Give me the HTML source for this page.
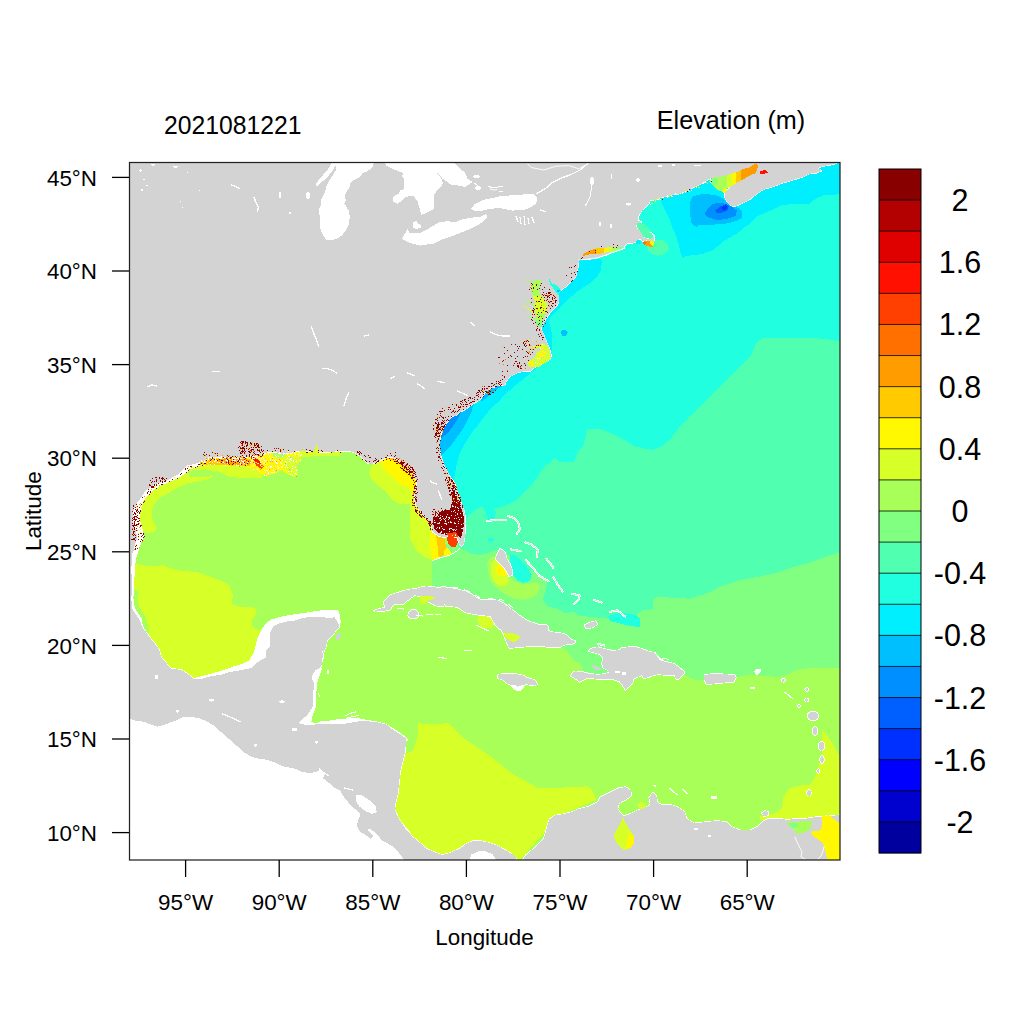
<!DOCTYPE html>
<html><head><meta charset="utf-8"><style>
html,body{margin:0;padding:0;background:#fff;}
svg{display:block;}
text{font-family:"Liberation Sans",sans-serif;fill:#000;}
.tl{font-size:22.4px;}
.cb{font-size:30.5px;}
.ti{font-size:24.8px;}
</style></head><body>
<svg width="1024" height="1024" viewBox="0 0 1024 1024">
<rect x="0" y="0" width="1024" height="1024" fill="#fff"/>
<clipPath id="pc"><rect x="129" y="162" width="711" height="698"/></clipPath><g clip-path="url(#pc)" shape-rendering="crispEdges"><rect x="129" y="162" width="711" height="698" fill="#fff"/>
<path d="M129.0,162.0 840.0,162.0 840.0,860.0 129.0,860.0Z" fill="#a8ff58"/>
<path d="M840.0,162.0 840.0,667.8 810.9,667.8 796.9,670.2 787.5,674.8 778.1,677.2 764.1,676.0 750.0,674.8 735.9,677.2 704.3,679.5 693.8,679.5 684.4,674.8 679.7,676.0 658.6,672.0 642.2,672.0 630.5,676.0 624.6,676.0 618.8,675.0 600.0,679.5 582.0,670.2 582.0,666.6 579.7,663.1 575.0,660.8 573.3,660.0 567.8,651.6 560.0,646.9 540.0,640.0 500.0,625.0 470.0,612.0 440.0,600.0 432.0,592.0 432.0,560.0 440.0,555.0 450.0,540.0 450.0,162.0Z" fill="#80ff80"/>
<path d="M840.0,162.0 840.0,552.0 825.0,557.0 810.8,562.4 790.0,568.0 775.7,573.0 760.0,576.5 740.5,580.0 720.0,587.0 705.4,594.0 689.0,598.7 670.3,597.6 656.2,597.0 652.7,601.0 653.9,609.2 642.2,610.4 635.2,616.2 630.5,625.6 620.6,622.8 605.0,618.1 590.0,617.0 580.0,615.5 573.8,612.0 564.7,613.0 558.1,608.8 549.1,607.0 545.6,604.1 542.5,599.4 545.6,591.6 547.2,582.2 539.4,575.9 531.6,571.2 508.1,554.8 497.2,549.7 489.4,552.5 480.0,555.0 471.5,553.7 459.9,548.2 455.0,540.0 450.0,162.0Z" fill="#50ffaf"/>
<path d="M840.0,162.0 840.0,341.0 825.0,339.0 810.8,337.6 775.7,337.6 762.0,338.5 756.0,343.0 751.0,355.0 742.0,364.0 733.5,372.7 725.0,381.5 716.0,390.3 707.0,399.0 698.4,407.8 689.5,416.5 680.8,425.4 675.0,433.0 670.3,439.5 662.0,446.0 652.7,450.0 644.0,448.5 635.1,446.5 626.0,441.0 617.6,436.0 608.0,432.0 600.0,429.0 588.2,429.2 587.3,429.7 583.2,446.1 577.9,451.8 573.7,462.5 569.7,462.0 560.0,462.5 555.4,457.9 543.0,468.2 536.0,479.7 529.8,486.8 522.8,493.8 515.7,500.8 506.3,505.5 497.0,507.9 491.1,510.2 486.4,507.9 480.5,507.3 474.7,510.2 468.8,514.9 466.5,520.0 450.0,520.0 440.0,162.0Z" fill="#20ffdf"/>
<path d="M650.0,195.0 659.8,198.7 664.5,209.2 669.2,218.6 672.7,228.0 676.2,236.2 678.6,244.4 680.9,253.8 683.3,258.0 686.0,256.0 702.2,254.0 713.1,250.0 724.1,241.0 737.7,232.8 745.0,227.0 751.4,222.5 758.0,216.0 768.4,211.5 782.0,205.1 795.7,203.8 809.4,203.8 816.2,198.3 823.0,195.5 829.9,194.9 840.0,194.2 840.0,162.0 700.0,162.0 650.0,185.0Z" fill="#00efff"/>
<path d="M690.3,201.0 692.7,196.3 700.0,194.5 708.2,194.2 716.4,195.5 723.2,198.3 727.3,202.4 734.2,206.5 738.3,207.9 742.4,212.0 742.4,217.4 738.3,220.2 730.1,222.9 720.5,224.3 708.2,224.8 700.0,224.5 696.2,226.8 691.5,223.3 690.3,215.1 690.3,206.9Z" fill="#00bfff"/>
<path d="M705.5,212.0 710.9,205.1 717.8,202.4 726.0,203.8 731.4,206.5 736.9,210.6 735.5,216.0 727.3,218.8 717.8,220.2 708.2,217.4 704.8,214.7Z" fill="#008fff"/>
<path d="M715.0,210.6 720.5,206.5 726.0,203.8 728.7,206.5 727.3,210.6 721.9,212.6 716.4,212.6Z" fill="#0060ff"/>
<path d="M722.0,207.5 725.5,205.0 727.5,206.8 726.0,209.5 723.0,210.0Z" fill="#0030ff"/>
<path d="M570.0,262.0 578.8,260.0 590.0,259.0 601.0,258.8 602.0,261.1 600.8,270.5 597.3,276.3 591.4,282.2 584.4,286.9 577.3,291.6 570.3,297.4 564.5,303.3 559.8,308.0 555.1,312.7 550.4,317.3 549.0,322.0 551.3,329.8 552.3,339.5 551.8,349.3 550.5,356.0 549.0,358.0 540.0,355.0 540.0,300.0 560.0,280.0Z" fill="#00efff"/>
<path d="M548.0,356.0 543.3,362.4 529.2,374.3 515.2,385.7 502.9,396.2 500.5,400.0 492.3,407.0 485.2,415.2 479.4,423.4 473.5,430.5 467.7,438.7 463.0,446.9 459.4,453.9 457.1,462.1 455.9,468.0 454.8,475.0 453.6,479.7 455.3,484.4 445.0,484.0 430.0,450.0 470.0,400.0 530.0,362.0Z" fill="#00efff"/>
<path d="M497.3,386.2 485.2,392.0 479.4,399.8 474.7,403.8 473.5,404.7 471.2,412.9 466.5,422.3 461.8,430.5 455.9,438.7 450.1,446.9 443.0,453.9 440.7,455.1 436.0,450.0 440.0,420.0 470.0,395.0 490.0,385.0Z" fill="#00bfff"/>
<path d="M461.0,412.0 460.6,412.9 457.1,419.9 452.4,427.0 447.7,432.8 441.9,437.5 439.0,438.0 440.0,425.0 450.0,415.0Z" fill="#008fff"/>
<path d="M497.6,385.0 494.1,386.3 490.5,387.6 487.0,390.3 484.4,392.9 481.8,396.4 479.5,399.6 482.0,401.0 485.0,399.0 488.0,396.0 492.0,393.0 496.0,390.0 500.0,387.5 503.0,386.0Z" fill="#00bfff"/>
<path d="M561.0,331.0 565.0,329.5 568.0,332.0 566.0,336.0 562.0,336.0Z" fill="#00bfff"/>
<path d="M131.0,563.0 134.9,563.4 146.6,565.9 163.2,565.4 177.8,570.3 197.4,572.2 216.9,579.1 229.0,584.9 233.0,595.2 231.5,604.0 240.3,606.9 252.0,606.9 256.8,609.8 255.9,614.6 252.0,619.5 252.0,625.4 255.9,629.3 260.7,630.3 265.0,625.0 270.0,650.0 250.0,680.0 190.0,690.0 140.0,650.0 131.0,620.0Z" fill="#d7ff28"/>
<path d="M133.9,588.8 138.8,591.8 137.8,598.6 138.8,606.4 145.6,617.1 148.5,627.9 148.5,633.8 145.0,634.0 140.0,625.0 134.0,612.0 132.0,600.0Z" fill="#a8ff58"/>
<path d="M215.0,460.0 206.0,462.0 190.0,466.0 175.0,475.0 160.0,483.0 148.0,492.0 140.0,502.0 137.0,515.0 138.0,528.0 143.1,530.8 146.6,533.1 151.3,532.5 155.4,530.8 156.5,526.1 153.6,522.6 151.9,516.7 152.4,509.7 154.8,502.7 159.5,498.0 167.7,493.3 178.2,487.4 187.6,483.3 199.3,481.0 209.9,479.2 215.7,470.5 222.8,473.2 227.4,476.3 240.0,478.0 249.0,477.5 262.0,477.6 263.0,472.0 262.0,466.0 249.0,462.0 235.0,461.0 222.0,460.0Z" fill="#d7ff28"/>
<path d="M188.0,471.0 200.0,469.5 211.0,470.0 214.0,474.0 209.0,476.5 199.0,477.0 189.0,477.0Z" fill="#a8ff58"/>
<path d="M376.0,462.0 373.0,463.7 371.0,467.1 369.1,473.0 371.0,478.8 376.9,484.7 384.7,490.5 392.5,500.0 400.0,504.0 410.0,504.5 410.2,520.0 410.0,538.0 416.8,551.0 423.7,557.0 431.9,559.9 433.0,560.0 440.0,540.0 432.0,527.0 420.0,510.0 416.0,490.0 416.0,470.0 400.0,460.0 385.0,457.0Z" fill="#d7ff28"/>
<path d="M380.8,460.3 388.6,457.3 400.3,463.2 405.0,462.0 413.0,470.0 417.0,478.0 417.0,490.0 415.0,492.5 414.0,492.5 408.1,487.6 400.0,484.0 392.5,476.9 386.6,472.0 382.7,467.1Z" fill="#fff800"/>
<path d="M388.6,456.0 398.4,459.0 407.1,467.0 410.0,471.0 407.1,469.6 404.2,469.1 398.0,463.0 392.5,460.3 386.0,458.5Z" fill="#ffca00"/>
<path d="M429.8,533.0 436.0,534.0 437.5,545.0 438.7,558.0 433.0,560.5 431.0,555.0 429.5,545.0Z" fill="#fff800"/>
<path d="M436.0,534.0 444.0,537.0 446.0,546.0 445.5,553.0 440.0,557.8 438.7,558.0 437.5,545.0Z" fill="#ffca00"/>
<path d="M444.0,550.0 447.0,548.0 450.0,551.0 452.0,554.0 448.0,556.0 444.0,557.0Z" fill="#fff800"/>
<path d="M447.5,535.3 457.2,536.5 458.0,542.0 456.0,546.5 452.0,547.0 449.0,545.0 447.0,540.0Z" fill="#ff4000"/>
<path d="M418.0,722.0 420.6,724.1 448.6,723.4 463.8,738.1 491.7,757.1 512.0,773.6 537.4,787.6 562.8,787.6 588.2,786.3 594.6,794.0 596.0,800.0 560.0,815.0 520.0,860.0 400.0,860.0 395.0,800.0 400.0,760.0 405.4,753.3 413.0,750.8 418.1,735.5Z" fill="#d7ff28"/>
<path d="M822.5,730.3 828.0,737.0 833.4,744.4 838.1,753.8 840.0,756.0 840.0,820.0 760.0,820.0 760.0,816.2 775.6,813.1 781.9,808.4 783.4,797.5 788.1,789.7 794.4,786.6 803.8,785.0 810.0,785.0 814.7,777.2 819.4,763.1 822.5,756.9 821.7,745.9Z" fill="#d7ff28"/>
<path d="M478.6,616.0 486.0,615.6 490.3,616.1 494.2,623.0 492.3,627.9 485.0,628.5 480.5,626.9 478.0,621.0Z" fill="#d7ff28"/>
<path d="M493.0,601.0 500.0,602.0 505.0,606.0 506.0,609.0 500.0,607.0 494.0,604.0Z" fill="#d7ff28"/>
<path d="M487.0,563.4 490.9,557.2 497.2,554.8 498.8,563.4 507.3,575.9 514.4,581.4 523.8,584.5 533.1,583.0 538.1,581.9 539.7,586.9 537.8,593.9 531.6,598.1 522.2,599.7 512.8,598.1 503.4,593.1 495.6,586.9 489.4,579.0Z" fill="#a8ff58"/>
<path d="M509.7,555.6 515.9,554.8 520.6,560.3 526.9,566.6 531.6,574.4 530.0,580.6 523.8,583.0 517.5,580.6 513.6,575.9 511.2,571.2 510.5,563.4Z" fill="#20ffdf"/>
<path d="M490.9,563.4 495.6,559.5 503.4,567.3 507.3,575.9 508.9,580.6 506.6,585.3 500.3,586.1 494.0,582.2 490.9,574.4Z" fill="#d7ff28"/>
<path d="M495.6,568.1 500.3,563.4 505.8,568.9 507.3,575.2 501.9,576.7 496.4,573.6Z" fill="#fff800"/>
<path d="M482.0,505.0 492.0,506.0 496.0,512.0 494.0,520.0 490.0,523.0 487.0,518.0 485.0,511.0Z" fill="#20ffdf"/>
<path d="M488.0,538.0 492.0,537.5 494.0,540.0 491.0,542.5 488.0,541.0Z" fill="#20ffdf"/>
<path d="M608.0,616.0 620.0,613.0 632.0,614.0 640.0,618.0 640.0,627.0 630.0,626.0 618.0,623.0 610.0,621.0Z" fill="#20ffdf"/>
<path d="M668.8,247.7 668.0,250.8 665.6,253.4 662.1,255.1 658.0,255.7 653.9,255.1 650.4,253.4 648.0,250.8 647.2,247.7 648.0,244.6 650.4,242.0 653.9,240.3 658.0,239.7 662.1,240.3 665.6,242.0 668.0,244.6Z" fill="#50ffaf"/>
<path d="M249.0,465.2 232.1,465.2 222.8,462.8 213.4,462.8 205.2,464.0 197.0,466.3 189.9,469.8 184.1,474.5 175.9,479.2 167.7,482.7 159.5,486.2 152.4,490.9 146.6,496.8 143.1,502.7 140.7,509.7 140.1,516.7 140.7,523.8 143.1,530.8 144.2,535.5 141.9,541.3 139.5,547.2 138.4,550.0 138.8,549.8 135.8,559.5 134.9,569.3 133.9,588.8 133.4,598.6 134.9,608.4 138.8,614.2 141.7,618.1 142.7,625.0 145.6,630.8 148.5,635.7 150.5,640.0 129.0,640.0 129.0,455.0 249.0,455.0Z" fill="#ffffff"/>
<path d="M193.9,678.0 198.6,676.9 208.0,674.5 216.2,672.2 224.4,669.8 233.8,666.3 242.0,664.0 249.0,660.5 253.9,652.7 255.9,643.9 257.8,637.1 261.7,629.3 265.6,623.4 271.5,619.5 279.3,617.1 289.1,615.1 298.8,613.7 308.6,612.2 318.4,610.7 326.2,609.8 337.9,609.8 339.8,614.6 340.8,622.5 338.9,627.3 320.0,640.0 290.0,650.0 260.0,670.0 200.0,685.0Z" fill="#ffffff"/>
<path d="M322.0,668.0 316.9,683.7 316.2,697.3 315.5,708.3 312.8,715.1 311.4,722.0 315.5,723.3 321.0,721.3 329.2,720.6 337.4,719.2 345.6,718.5 356.6,717.9 367.5,719.9 375.7,721.3 383.9,723.3 392.1,727.4 400.3,732.9 407.2,738.4 408.5,740.0 400.0,745.0 300.0,740.0 300.0,668.0Z" fill="#ffffff"/>
<path d="M406.0,740.0 400.2,765.2 400.2,779.3 397.8,791.0 394.3,808.6 400.2,820.3 410.0,832.0 390.0,830.0 390.0,740.0Z" fill="#ffffff"/>
<path d="M126.5,717.4 126.5,862.5 499.3,862.5 493.8,853.3 485.3,849.4 477.6,850.0 470.1,853.4 468.3,859.5 405.7,859.5 400.2,852.2 397.7,848.6 392.8,844.9 386.8,841.3 382.4,839.0 380.3,835.7 375.4,830.9 369.9,826.7 364.8,829.3 371.3,835.7 370.5,836.9 365.8,833.1 361.4,830.9 358.4,825.9 359.4,820.8 361.9,815.7 360.4,811.2 355.5,807.5 349.7,801.7 345.1,796.0 341.5,789.9 335.4,786.3 329.6,781.6 324.7,777.7 327.1,773.0 320.6,768.1 315.4,770.8 308.8,771.4 302.2,770.3 296.4,767.3 290.3,766.1 282.6,764.8 278.0,762.2 271.7,759.8 265.2,757.9 257.4,756.9 251.5,755.2 245.5,751.5 239.4,746.1 233.1,740.6 226.9,735.1 220.6,729.7 214.3,724.1 207.8,720.1 199.7,716.9 191.7,715.2 183.4,715.2 176.8,718.4 170.7,720.8 163.0,723.9 157.2,725.0 151.4,723.1 145.0,720.4 137.1,719.4 130.8,717.6Z" fill="#ffffff"/>
<path d="M509.3,684.6 512.3,688.1 515.8,690.5 520.8,690.8 524.0,686.9 525.7,684.3 520.0,684.0Z" fill="#ffffff"/>
<path d="M200.0,459.2 213.7,455.8 227.3,454.4 241.0,456.4 252.0,452.3 261.5,451.7 272.5,451.0 284.8,450.3 301.2,452.3 301.2,460.5 295.7,466.0 298.4,472.9 294.3,477.0 287.5,474.2 282.0,470.1 273.8,474.2 264.3,475.6 257.4,471.5 247.9,466.0 234.2,466.0 220.5,464.6 206.8,464.6 200.0,465.3Z" fill="#fff800"/>
<path d="M200.0,459.5 213.7,457.0 230.0,456.5 245.0,458.0 252.0,460.0 250.0,466.0 235.0,466.0 220.0,464.6 206.0,464.6 200.0,465.0Z" fill="#ffca00"/>
<path d="M215.0,459.0 230.0,458.0 245.0,459.0 251.0,461.0 249.0,465.0 236.0,465.0 222.0,463.5Z" fill="#ff9c00"/>
<path d="M252.0,455.0 258.8,460.5 262.0,463.0 259.0,464.0 254.7,461.0 250.6,458.0Z" fill="#ff1000"/>
<path d="M259.0,464.0 264.3,466.0 261.5,468.8 254.7,464.6 253.0,462.0Z" fill="#ff4000"/>
<path d="M272.5,451.5 284.8,451.0 284.8,457.8 278.0,458.0 273.0,456.0Z" fill="#a8ff58"/>
<path d="M282.0,457.0 292.0,456.0 300.0,458.0 297.0,466.0 298.4,472.9 294.3,477.0 289.0,474.0 284.0,466.0Z" fill="#d7ff28"/>
<path d="M298.8,450.8 320.0,450.5 340.0,450.5 340.0,456.0 320.0,456.0 300.0,457.0Z" fill="#d7ff28"/>
<path d="M818.5,716.0 818.1,717.7 816.9,719.2 815.1,720.2 813.0,720.5 810.9,720.2 809.1,719.2 807.9,717.7 807.5,716.0 807.9,714.3 809.1,712.8 810.9,711.8 813.0,711.5 815.1,711.8 816.9,712.8 818.1,714.3Z" fill="none" stroke="#ffffff" stroke-width="1.6" stroke-linejoin="round"/>
<path d="M817.5,731.0 817.3,732.5 816.8,733.8 816.0,734.7 815.0,735.0 814.0,734.7 813.2,733.8 812.7,732.5 812.5,731.0 812.7,729.5 813.2,728.2 814.0,727.3 815.0,727.0 816.0,727.3 816.8,728.2 817.3,729.5Z" fill="none" stroke="#ffffff" stroke-width="1.6" stroke-linejoin="round"/>
<path d="M824.5,746.0 824.3,747.7 823.6,749.2 822.6,750.2 821.5,750.5 820.4,750.2 819.4,749.2 818.7,747.7 818.5,746.0 818.7,744.3 819.4,742.8 820.4,741.8 821.5,741.5 822.6,741.8 823.6,742.8 824.3,744.3Z" fill="none" stroke="#ffffff" stroke-width="1.6" stroke-linejoin="round"/>
<path d="M823.8,759.5 823.7,760.8 823.3,762.0 822.7,762.7 822.0,763.0 821.3,762.7 820.7,762.0 820.3,760.8 820.2,759.5 820.3,758.2 820.7,757.0 821.3,756.3 822.0,756.0 822.7,756.3 823.3,757.0 823.7,758.2Z" fill="none" stroke="#ffffff" stroke-width="1.6" stroke-linejoin="round"/>
<path d="M819.4,771.0 819.3,771.7 819.0,772.3 818.7,772.7 818.2,772.8 817.7,772.7 817.4,772.3 817.1,771.7 817.0,771.0 817.1,770.3 817.4,769.7 817.7,769.3 818.2,769.2 818.7,769.3 819.0,769.7 819.3,770.3Z" fill="none" stroke="#ffffff" stroke-width="1.6" stroke-linejoin="round"/>
<path d="M811.0,793.0 810.8,794.1 810.4,795.0 809.8,795.6 809.0,795.8 808.2,795.6 807.6,795.0 807.2,794.1 807.0,793.0 807.2,791.9 807.6,791.0 808.2,790.4 809.0,790.2 809.8,790.4 810.4,791.0 810.8,791.9Z" fill="none" stroke="#ffffff" stroke-width="1.6" stroke-linejoin="round"/>
<path d="M808.4,689.5 808.3,690.1 807.9,690.6 807.4,691.0 806.8,691.1 806.2,691.0 805.7,690.6 805.3,690.1 805.2,689.5 805.3,688.9 805.7,688.4 806.2,688.0 806.8,687.9 807.4,688.0 807.9,688.4 808.3,688.9Z" fill="none" stroke="#ffffff" stroke-width="1.6" stroke-linejoin="round"/>
<path d="M808.4,700.0 808.3,700.6 807.9,701.1 807.4,701.5 806.8,701.6 806.2,701.5 805.7,701.1 805.3,700.6 805.2,700.0 805.3,699.4 805.7,698.9 806.2,698.5 806.8,698.4 807.4,698.5 807.9,698.9 808.3,699.4Z" fill="none" stroke="#ffffff" stroke-width="1.6" stroke-linejoin="round"/>
<path d="M784.9,680.3 784.8,680.9 784.5,681.4 784.0,681.7 783.4,681.8 782.8,681.7 782.3,681.4 782.0,680.9 781.9,680.3 782.0,679.7 782.3,679.2 782.8,678.9 783.4,678.8 784.0,678.9 784.5,679.2 784.8,679.7Z" fill="none" stroke="#ffffff" stroke-width="1.6" stroke-linejoin="round"/>
<path d="M800.0,706.0 799.9,706.4 799.7,706.7 799.4,706.9 799.0,707.0 798.6,706.9 798.3,706.7 798.1,706.4 798.0,706.0 798.1,705.6 798.3,705.3 798.6,705.1 799.0,705.0 799.4,705.1 799.7,705.3 799.9,705.6Z" fill="none" stroke="#ffffff" stroke-width="1.6" stroke-linejoin="round"/>
<path d="M762.0,813.0 765.0,811.0 768.5,812.0 768.0,815.0 764.0,816.5Z" fill="none" stroke="#ffffff" stroke-width="1.5" stroke-linejoin="round"/>
<path d="M374.1,610.7 377.0,609.6 381.7,608.4 385.8,607.2 384.1,604.9 384.1,601.4 387.0,598.4 390.5,595.2 394.6,593.7 399.3,592.3 405.1,590.5 411.0,589.4 415.7,589.1 419.8,587.6 425.9,586.3 431.7,586.8 437.6,587.8 443.4,587.3 449.3,587.8 455.2,588.8 461.0,590.3 466.9,591.7 471.8,594.6 476.6,597.6 480.5,599.5 486.4,600.0 492.3,600.0 498.1,600.5 504.0,603.4 509.8,608.3 514.7,611.7 519.4,615.6 524.1,618.8 529.5,621.9 535.0,623.4 539.7,625.0 545.9,625.0 548.3,626.6 548.3,630.5 550.6,632.0 556.9,632.8 563.1,633.6 566.2,635.2 569.4,638.3 572.5,640.2 574.8,640.6 575.2,642.6 572.5,643.8 566.2,644.5 563.1,645.3 560.0,646.9 553.8,647.3 547.5,646.9 541.2,645.7 533.4,646.1 525.6,646.5 517.8,647.3 512.0,647.8 509.0,647.7 507.0,643.0 505.0,638.0 503.0,633.0 501.1,629.8 497.1,626.9 494.2,623.0 492.3,619.1 490.3,616.1 486.4,615.6 480.5,615.2 474.7,614.2 468.8,613.2 464.9,612.2 461.0,609.3 457.1,606.9 452.2,606.4 446.4,606.4 444.4,603.4 443.4,605.9 439.5,606.4 435.6,605.4 431.7,603.4 427.8,601.5 426.8,600.5 424.0,598.5 420.0,596.5 414.5,595.2 411.0,597.8 406.3,601.4 402.8,604.3 398.1,604.0 394.6,604.3 392.3,606.0 389.9,609.6 385.2,610.7 381.7,611.3 375.3,611.6Z" fill="none" stroke="#ffffff" stroke-width="1.6" stroke-linejoin="round"/>
<path d="M589.1,650.2 592.6,647.9 598.4,647.3 605.5,649.1 612.5,650.8 619.5,650.2 621.9,647.9 627.7,647.3 634.8,646.7 640.6,648.5 645.3,650.2 650.0,652.0 654.7,652.6 657.0,656.1 659.4,658.4 661.7,660.8 666.4,662.0 673.4,663.7 678.1,666.6 681.6,669.6 684.6,671.9 682.8,674.8 680.5,677.2 678.1,679.5 675.8,678.4 674.6,675.4 668.8,674.8 664.1,674.8 659.4,674.3 654.7,674.8 650.0,676.6 644.1,678.4 641.8,675.4 638.3,676.6 633.6,678.4 632.4,683.0 628.9,686.6 625.4,690.1 624.2,687.7 621.9,684.2 619.5,681.3 613.7,679.5 607.8,678.9 600.8,679.5 593.8,678.4 586.7,678.4 582.0,680.7 579.7,681.9 577.3,679.5 575.0,678.4 571.0,676.0 572.0,673.5 575.0,671.3 582.0,671.9 589.1,673.7 598.4,674.8 605.5,673.7 609.0,672.5 607.8,670.2 603.1,667.8 602.0,663.1 603.1,658.4 600.8,654.9 594.9,652.6 589.1,651.4Z" fill="none" stroke="#ffffff" stroke-width="1.6" stroke-linejoin="round"/>
<path d="M497.6,675.8 499.4,674.4 504.6,674.1 507.6,673.5 514.6,674.1 519.3,674.6 524.6,675.8 526.3,677.6 529.8,678.8 534.5,679.9 537.5,684.0 534.5,685.5 530.4,685.2 526.3,684.0 522.8,685.2 519.3,685.8 517.5,686.9 515.8,685.2 509.9,684.6 507.0,683.4 503.5,679.9 500.5,678.8 497.6,678.2Z" fill="none" stroke="#ffffff" stroke-width="1.6" stroke-linejoin="round"/>
<path d="M704.3,675.0 712.0,674.0 720.0,674.2 728.0,674.5 734.8,675.3 736.0,677.5 733.6,681.9 725.0,682.5 715.0,683.5 706.6,684.2 704.5,680.0Z" fill="none" stroke="#ffffff" stroke-width="1.6" stroke-linejoin="round"/>
<path d="M408.1,615.4 409.8,611.3 412.2,609.9 415.7,610.1 418.0,613.1 418.6,616.0 416.3,617.8 412.2,618.4 409.2,617.2Z" fill="none" stroke="#ffffff" stroke-width="1.6" stroke-linejoin="round"/>
<path d="M500.3,548.6 505.0,552.5 506.6,558.8 509.7,563.4 512.0,569.7 512.0,575.2 508.9,575.9 506.6,571.2 503.4,566.6 499.5,563.4 495.6,558.8 498.0,552.5Z" fill="none" stroke="#ffffff" stroke-width="1.6" stroke-linejoin="round"/>
<path d="M584.7,625.2 590.0,622.5 595.6,621.2 597.2,624.4 592.5,627.5 586.2,628.3Z" fill="none" stroke="#ffffff" stroke-width="1.6" stroke-linejoin="round"/>
<path d="M522.0,861.0 526.0,855.0 533.8,848.6 540.0,842.2 543.6,838.8 545.1,834.6 547.6,824.4 549.5,819.3 552.7,816.8 555.3,815.4 562.8,814.3 573.0,811.7 578.1,809.2 588.2,806.7 598.4,801.6 600.0,797.5 609.4,792.8 618.8,788.1 625.8,787.0 630.5,790.5 631.6,795.2 625.8,799.8 618.8,803.4 617.6,809.2 621.1,813.9 623.4,816.2 630.5,813.9 637.5,810.4 646.9,806.9 650.4,804.5 649.2,797.5 652.7,792.8 656.2,795.2 657.4,802.2 660.9,804.5 670.3,804.5 677.3,806.9 684.4,811.6 686.7,818.6 693.8,823.3 705.5,822.1 717.2,820.9 726.6,822.1 731.2,826.8 740.6,830.3 750.0,830.3 759.4,825.6 764.1,820.9 768.8,818.6 778.1,818.6 787.5,819.8 796.9,818.6 806.2,818.6 813.3,817.4 825.0,816.2 841.0,815.1 841.0,861.0Z" fill="none" stroke="#ffffff" stroke-width="1.4" stroke-linejoin="round"/>
<path d="M129.0,162.0 836.7,162.0 836.7,163.4 831.3,164.8 823.1,166.2 817.6,168.2 821.7,170.9 816.2,173.0 809.4,173.7 803.9,176.4 795.7,179.1 788.9,181.2 782.0,183.2 776.6,185.3 771.1,187.3 765.6,188.7 760.2,191.4 754.7,195.5 749.2,199.7 743.8,202.4 738.3,205.1 734.2,206.5 730.1,205.1 727.3,202.4 725.3,198.3 724.6,194.2 726.0,190.8 730.1,187.3 711.4,177.6 706.7,180.5 702.0,183.4 696.2,186.4 690.3,188.7 685.6,191.1 678.6,194.0 672.7,194.6 666.9,196.3 661.0,197.5 655.2,199.8 650.1,200.0 649.0,203.5 645.5,207.0 642.0,210.0 639.6,214.1 637.8,217.6 638.4,220.5 641.4,222.0 640.2,222.8 637.3,224.0 636.1,225.8 636.7,228.1 638.4,229.3 640.8,231.6 642.5,235.1 644.3,237.5 647.8,238.7 651.3,238.1 653.1,236.3 652.5,234.0 650.7,232.2 649.6,232.2 651.5,232.8 653.5,234.5 654.6,237.5 654.5,240.4 651.3,241.0 646.6,240.4 642.5,241.0 641.4,240.4 640.2,239.2 637.3,239.8 636.1,242.2 631.4,243.1 626.7,243.3 625.5,245.1 624.5,246.0 624.1,248.4 619.4,250.0 616.2,251.2 611.6,252.7 606.9,254.7 602.2,256.2 597.5,257.8 592.8,258.6 585.8,259.4 578.8,259.8 578.8,260.9 578.3,264.0 578.0,267.2 577.2,270.5 576.4,273.4 575.6,276.6 573.3,279.7 570.3,282.2 567.8,285.0 563.9,288.0 560.9,290.4 558.6,286.9 555.1,284.5 551.6,283.4 549.2,278.7 548.5,279.5 550.4,284.5 552.2,286.3 553.9,289.2 556.2,292.7 558.6,295.1 558.6,302.1 556.2,306.8 552.7,310.3 549.2,313.8 546.9,317.3 544.5,320.9 542.2,325.5 541.6,326.7 541.0,329.1 543.4,333.8 545.1,338.4 546.9,343.1 549.2,347.8 550.4,352.5 551.2,354.9 550.3,359.3 546.8,361.1 543.3,362.9 539.8,364.6 536.2,366.4 532.7,369.0 531.0,370.8 527.5,371.2 522.2,371.6 517.8,372.5 514.3,374.3 510.8,376.0 508.1,378.7 506.4,381.3 505.0,383.9 504.6,385.7 501.1,385.3 497.6,385.7 494.1,387.0 490.5,388.3 487.0,391.0 484.4,393.6 481.8,397.1 480.0,399.8 478.6,400.6 474.7,403.0 470.8,405.3 466.9,408.4 463.0,410.8 459.1,412.3 455.9,415.5 452.8,416.2 451.2,417.8 448.9,420.2 446.6,423.3 444.2,426.4 442.7,429.5 441.1,433.4 440.3,438.1 439.5,441.2 439.5,445.9 439.9,451.4 441.1,456.9 442.7,461.6 443.4,465.0 443.8,464.7 446.1,469.4 448.4,474.1 451.6,478.8 454.7,483.4 456.2,489.7 457.8,493.6 459.4,497.5 460.9,502.2 462.5,506.9 464.1,510.8 464.8,514.7 465.2,519.4 464.8,524.1 465.4,526.0 465.0,532.0 464.5,538.0 463.3,544.7 461.5,546.0 459.5,544.0 458.0,540.0 457.2,537.3 448.3,535.9 444.2,537.3 438.7,535.9 432.6,531.8 432.0,527.2 429.7,522.5 426.6,519.4 424.2,516.2 421.1,513.1 418.0,508.4 415.6,503.8 414.5,499.1 414.8,494.4 415.6,489.7 416.8,485.0 416.4,480.3 415.0,477.9 413.0,474.0 410.1,471.0 406.2,468.1 402.3,464.2 398.4,460.3 394.5,457.8 390.5,456.9 385.7,457.8 380.8,460.3 376.9,462.2 373.0,463.7 369.1,463.7 366.1,462.2 363.2,458.3 359.3,455.4 354.4,452.5 349.5,451.0 339.8,451.0 330.0,452.0 321.3,451.9 315.9,451.9 311.6,451.3 305.2,450.8 298.8,450.8 294.5,451.9 289.1,452.9 283.7,454.0 278.3,452.9 273.0,451.9 267.6,452.4 262.2,454.0 256.9,456.2 251.5,456.2 246.1,457.2 240.7,458.3 234.5,458.1 222.8,457.0 211.0,457.0 204.0,460.5 194.6,464.0 187.6,465.2 184.1,468.7 179.4,473.4 173.5,476.9 167.7,480.4 161.8,481.6 156.0,483.9 150.1,487.4 145.4,490.9 140.7,498.0 137.2,502.7 133.7,509.7 132.5,516.7 133.7,523.8 136.0,530.8 137.2,537.8 134.9,544.8 133.7,550.0 131.9,555.0 131.4,569.3 131.9,588.8 131.4,598.6 131.9,608.4 135.8,614.2 139.7,620.1 142.7,627.9 144.7,630.0 149.4,637.0 155.2,644.1 159.3,649.9 161.1,657.0 167.0,664.0 171.6,668.7 181.0,669.8 186.9,673.4 191.6,676.9 193.9,679.2 200.9,679.2 208.0,676.9 215.0,675.7 222.0,674.5 229.0,672.2 236.1,671.0 242.0,669.8 247.8,668.7 252.5,667.5 255.9,663.5 261.7,659.6 265.6,657.6 266.1,650.8 269.5,646.9 270.0,639.1 270.5,632.2 273.4,626.4 279.3,623.4 287.1,621.5 294.9,620.5 302.7,618.1 310.5,616.6 318.4,616.6 326.2,617.6 332.0,618.1 334.0,616.6 336.9,620.5 338.9,624.4 338.9,627.3 334.0,633.2 330.1,637.1 327.1,641.0 326.2,645.9 324.2,650.8 322.3,658.6 321.3,666.4 318.0,669.0 315.5,670.0 311.4,676.8 314.2,683.7 312.8,697.3 312.8,706.9 307.3,715.1 300.5,720.6 299.1,723.3 304.6,724.7 312.8,724.7 321.0,724.0 332.0,724.0 342.9,724.0 351.1,722.6 359.3,721.3 368.9,721.3 378.4,722.6 386.6,724.7 393.5,730.2 400.3,734.3 405.8,738.4 405.4,750.8 402.9,760.9 400.3,771.1 399.0,783.8 397.8,794.0 395.2,804.1 394.5,809.0 399.0,819.3 405.0,828.0 412.7,836.9 420.0,843.0 426.4,848.6 434.0,852.0 442.0,855.0 450.0,853.0 459.6,848.6 466.0,844.0 473.3,840.8 481.0,841.0 488.9,842.7 497.0,845.5 504.5,849.6 512.0,854.0 516.0,858.0 517.0,861.0 496.7,861.0 492.8,854.5 485.0,850.9 478.0,851.5 471.3,854.5 469.4,861.0 405.0,861.0 399.0,853.1 396.6,849.6 392.0,846.1 386.1,842.6 381.4,840.2 379.1,836.7 374.4,832.0 369.7,828.5 367.3,829.7 373.2,835.5 370.9,839.1 365.0,834.4 360.3,832.0 356.8,826.2 358.0,820.3 360.3,815.6 359.1,812.1 354.5,808.6 348.6,802.7 343.9,796.9 340.4,791.0 334.5,787.5 328.7,782.8 322.8,778.1 325.2,773.4 320.5,769.9 315.8,772.3 308.8,772.9 301.7,771.7 295.9,768.8 290.0,767.6 282.1,766.2 277.4,763.6 271.2,761.2 264.9,759.4 257.1,758.4 250.9,756.6 244.6,752.7 238.4,747.2 232.1,741.7 225.9,736.2 219.6,730.8 213.4,725.3 207.1,721.4 199.3,718.3 191.5,716.7 183.7,716.7 177.4,719.8 171.2,722.2 163.4,725.3 157.1,726.6 150.9,724.5 144.6,721.9 136.8,720.9 130.6,719.1 128.0,719.0Z" fill="none" stroke="#ffffff" stroke-width="1.3" stroke-linejoin="round"/>
<path d="M129.0,162.0 836.7,162.0 836.7,163.4 831.3,164.8 823.1,166.2 817.6,168.2 821.7,170.9 816.2,173.0 809.4,173.7 803.9,176.4 795.7,179.1 788.9,181.2 782.0,183.2 776.6,185.3 771.1,187.3 765.6,188.7 760.2,191.4 754.7,195.5 749.2,199.7 743.8,202.4 738.3,205.1 734.2,206.5 730.1,205.1 727.3,202.4 725.3,198.3 724.6,194.2 726.0,190.8 730.1,187.3 711.4,177.6 706.7,180.5 702.0,183.4 696.2,186.4 690.3,188.7 685.6,191.1 678.6,194.0 672.7,194.6 666.9,196.3 661.0,197.5 655.2,199.8 650.1,200.0 649.0,203.5 645.5,207.0 642.0,210.0 639.6,214.1 637.8,217.6 638.4,220.5 641.4,222.0 640.2,222.8 637.3,224.0 636.1,225.8 636.7,228.1 638.4,229.3 640.8,231.6 642.5,235.1 644.3,237.5 647.8,238.7 651.3,238.1 653.1,236.3 652.5,234.0 650.7,232.2 649.6,232.2 651.5,232.8 653.5,234.5 654.6,237.5 654.5,240.4 651.3,241.0 646.6,240.4 642.5,241.0 641.4,240.4 640.2,239.2 637.3,239.8 636.1,242.2 631.4,243.1 626.7,243.3 625.5,245.1 624.5,246.0 624.1,248.4 619.4,250.0 616.2,251.2 611.6,252.7 606.9,254.7 602.2,256.2 597.5,257.8 592.8,258.6 585.8,259.4 578.8,259.8 578.8,260.9 578.3,264.0 578.0,267.2 577.2,270.5 576.4,273.4 575.6,276.6 573.3,279.7 570.3,282.2 567.8,285.0 563.9,288.0 560.9,290.4 558.6,286.9 555.1,284.5 551.6,283.4 549.2,278.7 548.5,279.5 550.4,284.5 552.2,286.3 553.9,289.2 556.2,292.7 558.6,295.1 558.6,302.1 556.2,306.8 552.7,310.3 549.2,313.8 546.9,317.3 544.5,320.9 542.2,325.5 541.6,326.7 541.0,329.1 543.4,333.8 545.1,338.4 546.9,343.1 549.2,347.8 550.4,352.5 551.2,354.9 550.3,359.3 546.8,361.1 543.3,362.9 539.8,364.6 536.2,366.4 532.7,369.0 531.0,370.8 527.5,371.2 522.2,371.6 517.8,372.5 514.3,374.3 510.8,376.0 508.1,378.7 506.4,381.3 505.0,383.9 504.6,385.7 501.1,385.3 497.6,385.7 494.1,387.0 490.5,388.3 487.0,391.0 484.4,393.6 481.8,397.1 480.0,399.8 478.6,400.6 474.7,403.0 470.8,405.3 466.9,408.4 463.0,410.8 459.1,412.3 455.9,415.5 452.8,416.2 451.2,417.8 448.9,420.2 446.6,423.3 444.2,426.4 442.7,429.5 441.1,433.4 440.3,438.1 439.5,441.2 439.5,445.9 439.9,451.4 441.1,456.9 442.7,461.6 443.4,465.0 443.8,464.7 446.1,469.4 448.4,474.1 451.6,478.8 454.7,483.4 456.2,489.7 457.8,493.6 459.4,497.5 460.9,502.2 462.5,506.9 464.1,510.8 464.8,514.7 465.2,519.4 464.8,524.1 465.4,526.0 465.0,532.0 464.5,538.0 463.3,544.7 461.5,546.0 459.5,544.0 458.0,540.0 457.2,537.3 448.3,535.9 444.2,537.3 438.7,535.9 432.6,531.8 432.0,527.2 429.7,522.5 426.6,519.4 424.2,516.2 421.1,513.1 418.0,508.4 415.6,503.8 414.5,499.1 414.8,494.4 415.6,489.7 416.8,485.0 416.4,480.3 415.0,477.9 413.0,474.0 410.1,471.0 406.2,468.1 402.3,464.2 398.4,460.3 394.5,457.8 390.5,456.9 385.7,457.8 380.8,460.3 376.9,462.2 373.0,463.7 369.1,463.7 366.1,462.2 363.2,458.3 359.3,455.4 354.4,452.5 349.5,451.0 339.8,451.0 330.0,452.0 321.3,451.9 315.9,451.9 311.6,451.3 305.2,450.8 298.8,450.8 294.5,451.9 289.1,452.9 283.7,454.0 278.3,452.9 273.0,451.9 267.6,452.4 262.2,454.0 256.9,456.2 251.5,456.2 246.1,457.2 240.7,458.3 234.5,458.1 222.8,457.0 211.0,457.0 204.0,460.5 194.6,464.0 187.6,465.2 184.1,468.7 179.4,473.4 173.5,476.9 167.7,480.4 161.8,481.6 156.0,483.9 150.1,487.4 145.4,490.9 140.7,498.0 137.2,502.7 133.7,509.7 132.5,516.7 133.7,523.8 136.0,530.8 137.2,537.8 134.9,544.8 133.7,550.0 131.9,555.0 131.4,569.3 131.9,588.8 131.4,598.6 131.9,608.4 135.8,614.2 139.7,620.1 142.7,627.9 144.7,630.0 149.4,637.0 155.2,644.1 159.3,649.9 161.1,657.0 167.0,664.0 171.6,668.7 181.0,669.8 186.9,673.4 191.6,676.9 193.9,679.2 200.9,679.2 208.0,676.9 215.0,675.7 222.0,674.5 229.0,672.2 236.1,671.0 242.0,669.8 247.8,668.7 252.5,667.5 255.9,663.5 261.7,659.6 265.6,657.6 266.1,650.8 269.5,646.9 270.0,639.1 270.5,632.2 273.4,626.4 279.3,623.4 287.1,621.5 294.9,620.5 302.7,618.1 310.5,616.6 318.4,616.6 326.2,617.6 332.0,618.1 334.0,616.6 336.9,620.5 338.9,624.4 338.9,627.3 334.0,633.2 330.1,637.1 327.1,641.0 326.2,645.9 324.2,650.8 322.3,658.6 321.3,666.4 318.0,669.0 315.5,670.0 311.4,676.8 314.2,683.7 312.8,697.3 312.8,706.9 307.3,715.1 300.5,720.6 299.1,723.3 304.6,724.7 312.8,724.7 321.0,724.0 332.0,724.0 342.9,724.0 351.1,722.6 359.3,721.3 368.9,721.3 378.4,722.6 386.6,724.7 393.5,730.2 400.3,734.3 405.8,738.4 405.4,750.8 402.9,760.9 400.3,771.1 399.0,783.8 397.8,794.0 395.2,804.1 394.5,809.0 399.0,819.3 405.0,828.0 412.7,836.9 420.0,843.0 426.4,848.6 434.0,852.0 442.0,855.0 450.0,853.0 459.6,848.6 466.0,844.0 473.3,840.8 481.0,841.0 488.9,842.7 497.0,845.5 504.5,849.6 512.0,854.0 516.0,858.0 517.0,861.0 496.7,861.0 492.8,854.5 485.0,850.9 478.0,851.5 471.3,854.5 469.4,861.0 405.0,861.0 399.0,853.1 396.6,849.6 392.0,846.1 386.1,842.6 381.4,840.2 379.1,836.7 374.4,832.0 369.7,828.5 367.3,829.7 373.2,835.5 370.9,839.1 365.0,834.4 360.3,832.0 356.8,826.2 358.0,820.3 360.3,815.6 359.1,812.1 354.5,808.6 348.6,802.7 343.9,796.9 340.4,791.0 334.5,787.5 328.7,782.8 322.8,778.1 325.2,773.4 320.5,769.9 315.8,772.3 308.8,772.9 301.7,771.7 295.9,768.8 290.0,767.6 282.1,766.2 277.4,763.6 271.2,761.2 264.9,759.4 257.1,758.4 250.9,756.6 244.6,752.7 238.4,747.2 232.1,741.7 225.9,736.2 219.6,730.8 213.4,725.3 207.1,721.4 199.3,718.3 191.5,716.7 183.7,716.7 177.4,719.8 171.2,722.2 163.4,725.3 157.1,726.6 150.9,724.5 144.6,721.9 136.8,720.9 130.6,719.1 128.0,719.0Z" fill="#d3d3d3"/>
<path d="M522.0,861.0 526.0,855.0 533.8,848.6 540.0,842.2 543.6,838.8 545.1,834.6 547.6,824.4 549.5,819.3 552.7,816.8 555.3,815.4 562.8,814.3 573.0,811.7 578.1,809.2 588.2,806.7 598.4,801.6 600.0,797.5 609.4,792.8 618.8,788.1 625.8,787.0 630.5,790.5 631.6,795.2 625.8,799.8 618.8,803.4 617.6,809.2 621.1,813.9 623.4,816.2 630.5,813.9 637.5,810.4 646.9,806.9 650.4,804.5 649.2,797.5 652.7,792.8 656.2,795.2 657.4,802.2 660.9,804.5 670.3,804.5 677.3,806.9 684.4,811.6 686.7,818.6 693.8,823.3 705.5,822.1 717.2,820.9 726.6,822.1 731.2,826.8 740.6,830.3 750.0,830.3 759.4,825.6 764.1,820.9 768.8,818.6 778.1,818.6 787.5,819.8 796.9,818.6 806.2,818.6 813.3,817.4 825.0,816.2 841.0,815.1 841.0,861.0Z" fill="#d3d3d3"/>
<path d="M374.1,610.7 377.0,609.6 381.7,608.4 385.8,607.2 384.1,604.9 384.1,601.4 387.0,598.4 390.5,595.2 394.6,593.7 399.3,592.3 405.1,590.5 411.0,589.4 415.7,589.1 419.8,587.6 425.9,586.3 431.7,586.8 437.6,587.8 443.4,587.3 449.3,587.8 455.2,588.8 461.0,590.3 466.9,591.7 471.8,594.6 476.6,597.6 480.5,599.5 486.4,600.0 492.3,600.0 498.1,600.5 504.0,603.4 509.8,608.3 514.7,611.7 519.4,615.6 524.1,618.8 529.5,621.9 535.0,623.4 539.7,625.0 545.9,625.0 548.3,626.6 548.3,630.5 550.6,632.0 556.9,632.8 563.1,633.6 566.2,635.2 569.4,638.3 572.5,640.2 574.8,640.6 575.2,642.6 572.5,643.8 566.2,644.5 563.1,645.3 560.0,646.9 553.8,647.3 547.5,646.9 541.2,645.7 533.4,646.1 525.6,646.5 517.8,647.3 512.0,647.8 509.0,647.7 507.0,643.0 505.0,638.0 503.0,633.0 501.1,629.8 497.1,626.9 494.2,623.0 492.3,619.1 490.3,616.1 486.4,615.6 480.5,615.2 474.7,614.2 468.8,613.2 464.9,612.2 461.0,609.3 457.1,606.9 452.2,606.4 446.4,606.4 444.4,603.4 443.4,605.9 439.5,606.4 435.6,605.4 431.7,603.4 427.8,601.5 426.8,600.5 424.0,598.5 420.0,596.5 414.5,595.2 411.0,597.8 406.3,601.4 402.8,604.3 398.1,604.0 394.6,604.3 392.3,606.0 389.9,609.6 385.2,610.7 381.7,611.3 375.3,611.6Z" fill="#d3d3d3"/>
<path d="M408.1,615.4 409.8,611.3 412.2,609.9 415.7,610.1 418.0,613.1 418.6,616.0 416.3,617.8 412.2,618.4 409.2,617.2Z" fill="#d3d3d3"/>
<path d="M589.1,650.2 592.6,647.9 598.4,647.3 605.5,649.1 612.5,650.8 619.5,650.2 621.9,647.9 627.7,647.3 634.8,646.7 640.6,648.5 645.3,650.2 650.0,652.0 654.7,652.6 657.0,656.1 659.4,658.4 661.7,660.8 666.4,662.0 673.4,663.7 678.1,666.6 681.6,669.6 684.6,671.9 682.8,674.8 680.5,677.2 678.1,679.5 675.8,678.4 674.6,675.4 668.8,674.8 664.1,674.8 659.4,674.3 654.7,674.8 650.0,676.6 644.1,678.4 641.8,675.4 638.3,676.6 633.6,678.4 632.4,683.0 628.9,686.6 625.4,690.1 624.2,687.7 621.9,684.2 619.5,681.3 613.7,679.5 607.8,678.9 600.8,679.5 593.8,678.4 586.7,678.4 582.0,680.7 579.7,681.9 577.3,679.5 575.0,678.4 571.0,676.0 572.0,673.5 575.0,671.3 582.0,671.9 589.1,673.7 598.4,674.8 605.5,673.7 609.0,672.5 607.8,670.2 603.1,667.8 602.0,663.1 603.1,658.4 600.8,654.9 594.9,652.6 589.1,651.4Z" fill="#d3d3d3"/>
<path d="M592.0,665.0 597.0,666.2 601.0,668.8 600.5,670.5 595.0,669.6 591.8,667.2Z" fill="#d3d3d3"/>
<path d="M497.6,675.8 499.4,674.4 504.6,674.1 507.6,673.5 514.6,674.1 519.3,674.6 524.6,675.8 526.3,677.6 529.8,678.8 534.5,679.9 537.5,684.0 534.5,685.5 530.4,685.2 526.3,684.0 522.8,685.2 519.3,685.8 517.5,686.9 515.8,685.2 509.9,684.6 507.0,683.4 503.5,679.9 500.5,678.8 497.6,678.2Z" fill="#d3d3d3"/>
<path d="M704.3,675.0 712.0,674.0 720.0,674.2 728.0,674.5 734.8,675.3 736.0,677.5 733.6,681.9 725.0,682.5 715.0,683.5 706.6,684.2 704.5,680.0Z" fill="#d3d3d3"/>
<path d="M500.3,548.6 505.0,552.5 506.6,558.8 509.7,563.4 512.0,569.7 512.0,575.2 508.9,575.9 506.6,571.2 503.4,566.6 499.5,563.4 495.6,558.8 498.0,552.5Z" fill="#d3d3d3"/>
<path d="M584.7,625.2 590.0,622.5 595.6,621.2 597.2,624.4 592.5,627.5 586.2,628.3Z" fill="#d3d3d3"/>
<path d="M818.5,716.0 818.1,717.7 816.9,719.2 815.1,720.2 813.0,720.5 810.9,720.2 809.1,719.2 807.9,717.7 807.5,716.0 807.9,714.3 809.1,712.8 810.9,711.8 813.0,711.5 815.1,711.8 816.9,712.8 818.1,714.3Z" fill="#d3d3d3"/>
<path d="M817.5,731.0 817.3,732.5 816.8,733.8 816.0,734.7 815.0,735.0 814.0,734.7 813.2,733.8 812.7,732.5 812.5,731.0 812.7,729.5 813.2,728.2 814.0,727.3 815.0,727.0 816.0,727.3 816.8,728.2 817.3,729.5Z" fill="#d3d3d3"/>
<path d="M824.5,746.0 824.3,747.7 823.6,749.2 822.6,750.2 821.5,750.5 820.4,750.2 819.4,749.2 818.7,747.7 818.5,746.0 818.7,744.3 819.4,742.8 820.4,741.8 821.5,741.5 822.6,741.8 823.6,742.8 824.3,744.3Z" fill="#d3d3d3"/>
<path d="M823.8,759.5 823.7,760.8 823.3,762.0 822.7,762.7 822.0,763.0 821.3,762.7 820.7,762.0 820.3,760.8 820.2,759.5 820.3,758.2 820.7,757.0 821.3,756.3 822.0,756.0 822.7,756.3 823.3,757.0 823.7,758.2Z" fill="#d3d3d3"/>
<path d="M819.4,771.0 819.3,771.7 819.0,772.3 818.7,772.7 818.2,772.8 817.7,772.7 817.4,772.3 817.1,771.7 817.0,771.0 817.1,770.3 817.4,769.7 817.7,769.3 818.2,769.2 818.7,769.3 819.0,769.7 819.3,770.3Z" fill="#d3d3d3"/>
<path d="M811.0,793.0 810.8,794.1 810.4,795.0 809.8,795.6 809.0,795.8 808.2,795.6 807.6,795.0 807.2,794.1 807.0,793.0 807.2,791.9 807.6,791.0 808.2,790.4 809.0,790.2 809.8,790.4 810.4,791.0 810.8,791.9Z" fill="#d3d3d3"/>
<path d="M808.4,689.5 808.3,690.1 807.9,690.6 807.4,691.0 806.8,691.1 806.2,691.0 805.7,690.6 805.3,690.1 805.2,689.5 805.3,688.9 805.7,688.4 806.2,688.0 806.8,687.9 807.4,688.0 807.9,688.4 808.3,688.9Z" fill="#d3d3d3"/>
<path d="M808.4,700.0 808.3,700.6 807.9,701.1 807.4,701.5 806.8,701.6 806.2,701.5 805.7,701.1 805.3,700.6 805.2,700.0 805.3,699.4 805.7,698.9 806.2,698.5 806.8,698.4 807.4,698.5 807.9,698.9 808.3,699.4Z" fill="#d3d3d3"/>
<path d="M784.9,680.3 784.8,680.9 784.5,681.4 784.0,681.7 783.4,681.8 782.8,681.7 782.3,681.4 782.0,680.9 781.9,680.3 782.0,679.7 782.3,679.2 782.8,678.9 783.4,678.8 784.0,678.9 784.5,679.2 784.8,679.7Z" fill="#d3d3d3"/>
<path d="M800.0,706.0 799.9,706.4 799.7,706.7 799.4,706.9 799.0,707.0 798.6,706.9 798.3,706.7 798.1,706.4 798.0,706.0 798.1,705.6 798.3,705.3 798.6,705.1 799.0,705.0 799.4,705.1 799.7,705.3 799.9,705.6Z" fill="#d3d3d3"/>
<path d="M338.0,633.0 341.0,634.5 340.5,637.5 338.0,640.0 335.8,639.5 336.0,636.0Z" fill="#d3d3d3"/>
<path d="M762.0,813.0 765.0,811.0 768.5,812.0 768.0,815.0 764.0,816.5Z" fill="#d3d3d3"/>
<path d="M355.6,794.5 362.7,795.7 369.7,800.4 375.5,806.2 376.7,812.1 372.0,813.9 365.0,810.9 359.1,806.2 355.6,800.4Z" fill="#ffffff"/>
<path d="M754.0,671.0 758.0,668.5 761.5,669.0 760.0,673.0 756.0,675.5Z" fill="#ffffff"/>
<path d="M326.5,669.5 329.5,670.0 329.0,674.0 326.8,674.5Z" fill="#ffffff"/>
<path d="M710.5,796.5 716.5,796.0 717.0,799.0 711.0,799.5Z" fill="#ffffff"/>
<path d="M750.0,687.5 754.5,687.0 754.7,689.0 750.5,689.3Z" fill="#ffffff"/>
<path d="M653.0,784.5 656.0,785.0 656.0,786.6 653.0,786.2Z" fill="#ffffff"/>
<path d="M694.0,828.0 698.0,827.6 698.4,830.0 694.5,830.0Z" fill="#ffffff"/>
<path d="M708.0,835.0 711.0,835.0 711.0,837.0 708.0,837.0Z" fill="#ffffff"/>
<path d="M615.0,670.5 619.5,670.8 620.0,672.8 615.5,672.6Z" fill="#ffffff"/>
<path d="M621.5,672.3 626.0,672.5 626.2,675.0 622.0,674.8Z" fill="#ffffff"/>
<path d="M336.1,162.0 374.2,162.0 372.3,167.8 367.4,171.2 362.5,173.2 361.0,175.6 358.6,178.1 354.7,179.5 350.8,182.5 349.3,187.3 345.9,193.2 344.9,196.1 345.9,200.0 344.4,203.5 346.9,207.9 348.8,210.8 349.8,216.6 348.8,224.5 345.9,230.3 342.0,235.2 337.1,238.6 331.2,240.1 326.4,239.6 323.4,236.2 321.0,231.3 320.0,226.4 320.5,218.6 318.6,211.8 319.0,208.8 321.0,204.9 321.5,199.1 323.4,195.2 325.4,191.2 325.6,188.3 327.3,183.9 329.3,180.5 333.2,174.6 336.1,169.8Z" fill="#ffffff"/>
<path d="M332.2,162.0 337.6,162.0 333.2,169.8 329.3,174.6 326.4,178.6 322.5,181.5 318.6,185.4 316.6,186.2 315.6,184.4 318.6,180.0 323.4,174.6 328.3,168.8Z" fill="#ffffff"/>
<path d="M384.0,161.0 455.0,161.0 455.0,163.1 460.0,168.8 465.0,172.5 467.5,178.8 472.5,181.9 470.0,183.8 465.0,186.9 461.2,186.2 455.0,185.0 450.0,184.4 446.2,181.2 442.5,178.8 438.8,173.8 436.2,173.1 441.2,177.5 443.1,183.8 438.8,188.8 434.4,193.8 434.0,208.8 430.0,211.2 421.2,215.0 420.0,210.0 417.5,201.2 413.8,196.2 410.0,195.6 405.0,197.5 401.2,201.2 397.5,203.8 392.5,201.2 393.8,196.2 398.8,193.8 400.0,190.6 403.8,189.4 403.8,178.8 401.9,176.2 403.1,173.1 400.0,171.9 392.5,168.8 386.0,165.5Z" fill="#ffffff"/>
<path d="M413.1,222.5 416.2,220.6 418.1,223.8 421.2,225.0 421.2,228.1 416.2,228.8 413.1,228.1 412.5,225.0Z" fill="#ffffff"/>
<path d="M401.9,238.8 410.6,243.1 420.0,245.6 433.8,243.5 442.5,239.4 455.0,235.0 467.5,230.0 480.0,223.8 487.2,217.8 486.0,213.8 480.0,216.9 470.0,217.8 460.0,220.0 456.2,222.1 447.5,221.2 438.8,222.5 432.5,226.2 425.0,230.6 419.4,233.1 413.8,232.5 408.8,232.5 408.1,228.1 405.6,232.5Z" fill="#ffffff"/>
<path d="M471.2,208.8 475.0,203.8 482.5,200.0 492.5,198.1 500.0,196.2 507.5,195.6 518.8,195.0 528.8,193.8 533.8,194.4 537.5,197.5 536.2,203.8 530.0,207.5 523.8,210.0 512.5,210.6 503.8,208.8 500.0,208.1 490.0,208.8 482.5,210.6 475.0,211.2Z" fill="#ffffff"/>
<path d="M281.3,195.0 281.1,196.5 280.6,197.6 280.0,198.0 279.4,197.6 278.9,196.5 278.7,195.0 278.9,193.5 279.4,192.4 280.0,192.0 280.6,192.4 281.1,193.5Z" fill="#ffffff"/>
<path d="M310.0,195.5 309.7,197.2 309.0,198.5 308.0,199.0 307.0,198.5 306.3,197.2 306.0,195.5 306.3,193.8 307.0,192.5 308.0,192.0 309.0,192.5 309.7,193.8Z" fill="#ffffff"/>
<path d="M291.2,213.0 291.0,213.6 290.6,214.0 290.0,214.2 289.4,214.0 289.0,213.6 288.8,213.0 289.0,212.4 289.4,212.0 290.0,211.8 290.6,212.0 291.0,212.4Z" fill="#ffffff"/>
<path d="M631.0,204.0 630.7,204.8 629.8,205.3 628.5,205.5 627.2,205.3 626.3,204.8 626.0,204.0 626.3,203.2 627.2,202.7 628.5,202.5 629.8,202.7 630.7,203.2Z" fill="#ffffff"/>
<path d="M612.0,226.0 611.9,227.0 611.5,227.7 611.0,228.0 610.5,227.7 610.1,227.0 610.0,226.0 610.1,225.0 610.5,224.3 611.0,224.0 611.5,224.3 611.9,225.0Z" fill="#ffffff"/>
<path d="M158.5,677.0 158.2,678.0 157.5,678.7 156.5,679.0 155.5,678.7 154.8,678.0 154.5,677.0 154.8,676.0 155.5,675.3 156.5,675.0 157.5,675.3 158.2,676.0Z" fill="#ffffff"/>
<path d="M214.5,700.0 214.1,700.8 213.0,701.3 211.5,701.5 210.0,701.3 208.9,700.8 208.5,700.0 208.9,699.2 210.0,698.7 211.5,698.5 213.0,698.7 214.1,699.2Z" fill="#ffffff"/>
<path d="M297.5,729.5 297.1,730.2 296.0,730.8 294.5,731.0 293.0,730.8 291.9,730.2 291.5,729.5 291.9,728.8 293.0,728.2 294.5,728.0 296.0,728.2 297.1,728.8Z" fill="#ffffff"/>
<path d="M257.0,745.0 256.8,745.8 256.2,746.3 255.5,746.5 254.8,746.3 254.2,745.8 254.0,745.0 254.2,744.2 254.8,743.7 255.5,743.5 256.2,743.7 256.8,744.2Z" fill="#ffffff"/>
<path d="M179.0,711.0 178.8,711.8 178.2,712.3 177.5,712.5 176.8,712.3 176.2,711.8 176.0,711.0 176.2,710.2 176.8,709.7 177.5,709.5 178.2,709.7 178.8,710.2Z" fill="#ffffff"/>
<path d="M285.0,701.5 284.6,702.1 283.5,702.5 282.0,702.7 280.5,702.5 279.4,702.1 279.0,701.5 279.4,700.9 280.5,700.5 282.0,700.3 283.5,700.5 284.6,700.9Z" fill="#ffffff"/>
<path d="M318.0,742.0 317.8,742.8 317.2,743.3 316.5,743.5 315.8,743.3 315.2,742.8 315.0,742.0 315.2,741.2 315.8,740.7 316.5,740.5 317.2,740.7 317.8,741.2Z" fill="#ffffff"/>
<path d="M662.5,166.0 662.2,166.8 661.2,167.3 660.0,167.5 658.8,167.3 657.8,166.8 657.5,166.0 657.8,165.2 658.8,164.7 660.0,164.5 661.2,164.7 662.2,165.2Z" fill="#ffffff"/>
<path d="M640.0,180.0 639.7,181.0 639.0,181.7 638.0,182.0 637.0,181.7 636.3,181.0 636.0,180.0 636.3,179.0 637.0,178.3 638.0,178.0 639.0,178.3 639.7,179.0Z" fill="#ffffff"/>
<path d="M594.2,181.0 593.9,183.2 593.1,184.9 592.0,185.5 590.9,184.9 590.1,183.2 589.8,181.0 590.1,178.8 590.9,177.1 592.0,176.5 593.1,177.1 593.9,178.8Z" fill="#ffffff"/>
<path d="M612.5,176.0 612.4,177.2 612.0,178.2 611.5,178.5 611.0,178.2 610.6,177.2 610.5,176.0 610.6,174.8 611.0,173.8 611.5,173.5 612.0,173.8 612.4,174.8Z" fill="#ffffff"/>
<path d="M675.5,164.8 675.2,165.2 674.5,165.6 673.5,165.7 672.5,165.6 671.8,165.2 671.5,164.8 671.8,164.4 672.5,164.0 673.5,163.9 674.5,164.0 675.2,164.4Z" fill="#ffffff"/>
<path d="M601.0,224.0 600.9,225.0 600.5,225.7 600.0,226.0 599.5,225.7 599.1,225.0 599.0,224.0 599.1,223.0 599.5,222.3 600.0,222.0 600.5,222.3 600.9,223.0Z" fill="#ffffff"/>
<path d="M701.5,165.5 701.0,165.9 699.5,166.3 697.5,166.4 695.5,166.3 694.0,165.9 693.5,165.5 694.0,165.1 695.5,164.7 697.5,164.6 699.5,164.7 701.0,165.1Z" fill="#ffffff"/>
<path d="M154.7,164.7 154.4,165.2 153.7,165.6 152.7,165.7 151.7,165.6 151.0,165.2 150.7,164.7 151.0,164.2 151.7,163.8 152.7,163.7 153.7,163.8 154.4,164.2Z" fill="#ffffff"/>
<path d="M141.7,170.7 141.5,171.4 141.1,172.0 140.5,172.2 139.9,172.0 139.5,171.4 139.3,170.7 139.5,169.9 139.9,169.4 140.5,169.2 141.1,169.4 141.5,169.9Z" fill="#ffffff"/>
<path d="M145.0,179.5 144.9,179.8 144.5,180.1 144.0,180.2 143.5,180.1 143.1,179.8 143.0,179.5 143.1,179.2 143.5,178.9 144.0,178.8 144.5,178.9 144.9,179.2Z" fill="#ffffff"/>
<path d="M148.0,185.2 147.9,185.6 147.5,185.9 147.0,186.0 146.5,185.9 146.1,185.6 146.0,185.2 146.1,184.8 146.5,184.5 147.0,184.4 147.5,184.5 147.9,184.8Z" fill="#ffffff"/>
<path d="M143.0,190.0 142.9,190.4 142.5,190.7 142.0,190.8 141.5,190.7 141.1,190.4 141.0,190.0 141.1,189.6 141.5,189.3 142.0,189.2 142.5,189.3 142.9,189.6Z" fill="#ffffff"/>
<path d="M178.0,166.8 177.7,167.3 176.8,167.7 175.5,167.8 174.2,167.7 173.3,167.3 173.0,166.8 173.3,166.3 174.2,165.9 175.5,165.8 176.8,165.9 177.7,166.3Z" fill="#ffffff"/>
<path d="M188.2,172.7 188.1,173.0 187.8,173.3 187.5,173.4 187.2,173.3 186.9,173.0 186.8,172.7 186.9,172.3 187.2,172.1 187.5,172.0 187.8,172.1 188.1,172.3Z" fill="#ffffff"/>
<path d="M181.5,201.5 181.4,201.8 181.1,202.0 180.7,202.1 180.3,202.0 180.0,201.8 179.9,201.5 180.0,201.2 180.3,201.0 180.7,200.9 181.1,201.0 181.4,201.2Z" fill="#ffffff"/>
<path d="M183.1,207.6 183.0,208.0 182.8,208.3 182.5,208.4 182.2,208.3 182.0,208.0 181.9,207.6 182.0,207.2 182.2,206.9 182.5,206.8 182.8,206.9 183.0,207.2Z" fill="#ffffff"/>
<path d="M200.1,190.5 200.0,190.9 199.7,191.2 199.3,191.3 198.9,191.2 198.6,190.9 198.5,190.5 198.6,190.1 198.9,189.8 199.3,189.7 199.7,189.8 200.0,190.1Z" fill="#ffffff"/>
<path d="M480.0,176.5 479.5,177.2 478.2,177.8 476.5,178.0 474.8,177.8 473.5,177.2 473.0,176.5 473.5,175.8 474.8,175.2 476.5,175.0 478.2,175.2 479.5,175.8Z" fill="#ffffff"/>
<path d="M481.0,188.0 480.6,189.2 479.5,190.2 478.0,190.5 476.5,190.2 475.4,189.2 475.0,188.0 475.4,186.8 476.5,185.8 478.0,185.5 479.5,185.8 480.6,186.8Z" fill="#ffffff"/>
<path d="M503.5,191.5 503.2,191.9 502.2,192.3 501.0,192.4 499.8,192.3 498.8,191.9 498.5,191.5 498.8,191.1 499.8,190.7 501.0,190.6 502.2,190.7 503.2,191.1Z" fill="#ffffff"/>
<path d="M503.0,632.5 513.8,633.6 520.0,636.0 519.2,639.0 513.8,642.2 509.0,640.6 505.0,637.5Z" fill="#d7ff28"/>
<path d="M420.0,596.5 424.0,596.0 429.8,596.1 434.6,597.1 434.6,598.6 431.7,599.5 426.8,600.5 427.8,601.5 424.0,604.0 420.0,604.5Z" fill="#d7ff28"/>
<path d="M637.5,805.0 641.0,802.0 645.7,803.0 645.0,808.0 640.0,809.0Z" fill="#d7ff28"/>
<path d="M313.5,453.7 315.0,448.0 316.5,444.0 318.0,448.0 319.0,453.7Z" fill="#d7ff28"/>
<path d="M822.0,816.6 828.8,815.1 834.7,819.5 840.0,823.4 840.0,860.0 827.9,860.0 825.9,854.7 824.9,848.8 823.0,843.0 819.0,840.0 813.2,836.1 811.2,833.2 812.2,831.2 821.0,830.3 822.0,823.4 821.5,819.5Z" fill="#fff800"/>
<path d="M787.8,822.5 798.6,821.5 812.2,820.5 812.2,827.3 809.0,830.0 805.4,832.2 797.6,834.2 793.7,829.3 788.8,825.4Z" fill="#a8ff58"/>
<path d="M789.0,823.0 798.6,822.5 797.0,827.0 792.0,828.0Z" fill="#80ff80"/>
<path d="M812.2,821.0 821.0,818.0 822.0,823.4 821.0,830.3 812.2,831.2 809.3,829.3 811.0,826.0Z" fill="#d3d3d3"/>
<path d="M623.0,817.0 625.0,822.0 630.0,830.0 634.0,836.0 634.0,842.0 631.0,848.0 624.0,850.0 620.0,847.0 615.0,840.0 614.0,835.0 617.0,829.0 621.0,822.0Z" fill="#d7ff28"/>
<path d="M629.0,833.0 634.0,838.0 634.0,843.0 631.0,848.0 626.0,849.0 627.0,842.0Z" fill="#fff800"/>
<path d="M712.0,185.0 716.0,189.0 720.0,191.4 724.0,190.5 727.3,188.4 727.3,174.9 721.9,176.4 712.3,177.8 709.0,181.0Z" fill="#a8ff58"/>
<path d="M730.1,186.7 732.1,185.6 732.1,173.6 727.3,174.9 727.3,188.4Z" fill="#d7ff28"/>
<path d="M736.2,183.2 736.2,172.1 734.2,173.0 732.1,173.6 732.1,185.6Z" fill="#fff800"/>
<path d="M741.0,180.5 741.0,170.1 736.2,172.1 736.2,183.2Z" fill="#ffca00"/>
<path d="M752.0,174.4 756.1,173.0 758.0,166.0 757.0,163.5 754.7,164.1 749.2,167.5 743.8,168.9 741.0,170.1 741.0,180.5Z" fill="#ff9c00"/>
<path d="M709.0,181.0 713.0,178.5 718.0,178.0 716.0,183.0 713.0,186.0Z" fill="#80ff80"/>
<path d="M760.2,171.0 766.0,170.0 768.0,172.5 763.0,174.0 760.0,173.5Z" fill="#ff1000"/>
<path d="M722.0,191.5 726.0,188.0 727.0,190.0 724.0,193.0Z" fill="#fff800"/>
<path d="M583.4,255.9 588.1,254.7 593.6,253.9 596.0,253.9 596.0,248.6 591.2,250.0 585.8,252.3 582.7,255.1Z" fill="#ff9c00"/>
<path d="M599.1,253.9 603.8,253.1 603.8,247.7 596.7,248.4 596.0,248.6 596.0,253.9Z" fill="#ffca00"/>
<path d="M608.4,252.0 608.4,247.4 603.8,247.7 603.8,253.1Z" fill="#fff800"/>
<path d="M611.6,251.5 611.6,247.2 610.8,247.3 608.4,247.4 608.4,252.0Z" fill="#d7ff28"/>
<path d="M613.1,251.2 617.8,250.2 617.8,246.8 616.2,246.9 611.6,247.2 611.6,251.5Z" fill="#a8ff58"/>
<path d="M618.6,250.0 624.1,248.0 621.7,246.5 617.8,246.8 617.8,250.2Z" fill="#80ff80"/>
<path d="M539.8,293.9 538.7,289.2 540.4,284.5 541.0,280.4 536.3,279.8 532.8,282.2 531.1,286.9 531.6,291.6 532.7,296.0 541.4,296.0Z" fill="#a8ff58"/>
<path d="M547.5,309.1 546.9,303.3 543.4,298.6 541.4,296.0 532.7,296.0 532.8,296.2 535.2,300.9 534.0,305.6 535.2,310.3 535.8,313.0 546.0,313.0Z" fill="#d7ff28"/>
<path d="M543.4,318.5 545.7,313.8 546.0,313.0 535.8,313.0 536.3,315.0 535.2,319.7 535.3,320.0 543.0,320.0Z" fill="#a8ff58"/>
<path d="M542.2,327.3 542.2,323.2 543.0,320.0 535.3,320.0 536.3,324.4 539.8,327.3Z" fill="#80ff80"/>
<path d="M560.9,290.4 558.6,286.9 555.1,284.5 551.6,283.4 549.2,278.7 548.5,279.5 550.4,284.5 552.2,286.3 553.9,289.2 556.2,292.7 558.6,295.1Z" fill="#20ffdf"/>
<path d="M557.0,290.0 560.0,289.5 559.0,292.5 556.5,292.0Z" fill="#00bfff"/>
<path d="M533.0,347.0 543.0,343.4 548.0,346.0 550.3,352.2 550.3,359.0 545.0,363.0 538.4,366.9 529.0,366.9 527.0,363.0 531.4,359.8 536.0,356.0 537.0,351.0Z" fill="#d7ff28"/>
<path d="M539.0,351.0 544.0,350.0 546.0,354.0 543.0,357.5 539.0,356.0Z" fill="#fff800"/>
<path d="M529.0,362.5 533.0,362.0 534.0,365.5 530.0,366.2Z" fill="#fff800"/>
<path d="M536.5,348.5 540.0,347.0 541.0,350.0 538.0,352.0Z" fill="#d3d3d3"/>
<path d="M636.7,223.4 641.4,223.4 646.0,225.8 649.0,228.1 650.7,232.2 652.5,234.6 653.1,237.5 650.1,238.7 645.5,238.1 643.1,236.3 641.4,232.8 639.0,229.3 636.7,227.5Z" fill="#50ffaf"/>
<path d="M642.5,242.2 645.5,241.0 650.1,240.7 653.7,241.0 653.7,244.5 652.5,246.9 647.8,246.3 644.3,244.5Z" fill="#ff9c00"/>
<path d="M650.0,241.0 653.7,241.0 653.7,244.5 652.5,246.0 650.0,244.0Z" fill="#fff800"/>
<path d="M642.5,242.5 645.0,241.5 646.5,243.0 645.0,245.0 643.0,244.0Z" fill="#ff7000"/>
<path d="M636.5,240.5 640.0,240.0 641.0,242.5 638.0,244.5 636.0,244.0Z" fill="#00efff"/>
<path d="M433.2,517.3 436.0,517.3 442.1,510.5 445.5,509.1 449.6,510.5 451.0,507.1 452.4,500.0 452.0,492.0 455.1,491.0 457.8,500.3 462.0,510.5 464.0,517.3 463.3,531.0 461.0,538.0 457.8,536.5 451.0,535.1 444.2,534.4 437.3,532.4 433.9,528.3 433.2,522.8Z" fill="#880000"/>
<path d="M447.0,533.5 456.0,532.0 458.5,537.0 452.0,537.5 448.0,536.5Z" fill="#ff4000"/>
<path d="M525.3,542.3 531.6,544.7 537.8,549.4 537.0,557.2" fill="none" stroke="#ffffff" stroke-width="2.2" stroke-linejoin="round" stroke-linecap="round"/>
<path d="M546.4,558.8 550.3,563.4 553.4,568.1" fill="none" stroke="#ffffff" stroke-width="2.2" stroke-linejoin="round" stroke-linecap="round"/>
<path d="M526.1,560.3 533.1,568.1 539.4,575.9 548.8,581.4" fill="none" stroke="#ffffff" stroke-width="2.2" stroke-linejoin="round" stroke-linecap="round"/>
<path d="M553.4,577.5 558.1,585.3 562.8,591.6" fill="none" stroke="#ffffff" stroke-width="2.2" stroke-linejoin="round" stroke-linecap="round"/>
<path d="M572.2,593.9 580.0,595.5 578.4,599.4 573.8,604.0" fill="none" stroke="#ffffff" stroke-width="2.2" stroke-linejoin="round" stroke-linecap="round"/>
<path d="M594.0,600.0 601.9,602.5" fill="none" stroke="#ffffff" stroke-width="2.2" stroke-linejoin="round" stroke-linecap="round"/>
<path d="M609.7,611.9 617.5,610.3 625.3,616.6" fill="none" stroke="#ffffff" stroke-width="2.2" stroke-linejoin="round" stroke-linecap="round"/>
<path d="M511.0,549.4 520.6,551.2" fill="none" stroke="#ffffff" stroke-width="2.2" stroke-linejoin="round" stroke-linecap="round"/>
<path d="M486.9,521.0 496.0,520.0 506.4,520.0" fill="none" stroke="#ffffff" stroke-width="2.2" stroke-linejoin="round" stroke-linecap="round"/>
<path d="M508.4,516.1 514.0,518.0 518.1,522.0 520.0,528.8 517.1,533.7" fill="none" stroke="#ffffff" stroke-width="2.2" stroke-linejoin="round" stroke-linecap="round"/>
<path d="M597.9,643.8 604.3,645.5" fill="none" stroke="#ffffff" stroke-width="2.2" stroke-linejoin="round" stroke-linecap="round"/>
<path d="M525.3,542.3 531.6,544.7 537.8,549.4 537.0,557.2" fill="none" stroke="#d3d3d3" stroke-width="0.8" stroke-linejoin="round" stroke-linecap="round"/>
<path d="M546.4,558.8 550.3,563.4 553.4,568.1" fill="none" stroke="#d3d3d3" stroke-width="0.8" stroke-linejoin="round" stroke-linecap="round"/>
<path d="M526.1,560.3 533.1,568.1 539.4,575.9 548.8,581.4" fill="none" stroke="#d3d3d3" stroke-width="0.8" stroke-linejoin="round" stroke-linecap="round"/>
<path d="M553.4,577.5 558.1,585.3 562.8,591.6" fill="none" stroke="#d3d3d3" stroke-width="0.8" stroke-linejoin="round" stroke-linecap="round"/>
<path d="M572.2,593.9 580.0,595.5 578.4,599.4 573.8,604.0" fill="none" stroke="#d3d3d3" stroke-width="0.8" stroke-linejoin="round" stroke-linecap="round"/>
<path d="M594.0,600.0 601.9,602.5" fill="none" stroke="#d3d3d3" stroke-width="0.8" stroke-linejoin="round" stroke-linecap="round"/>
<path d="M609.7,611.9 617.5,610.3 625.3,616.6" fill="none" stroke="#d3d3d3" stroke-width="0.8" stroke-linejoin="round" stroke-linecap="round"/>
<path d="M511.0,549.4 520.6,551.2" fill="none" stroke="#d3d3d3" stroke-width="0.8" stroke-linejoin="round" stroke-linecap="round"/>
<path d="M486.9,521.0 496.0,520.0 506.4,520.0" fill="none" stroke="#d3d3d3" stroke-width="0.8" stroke-linejoin="round" stroke-linecap="round"/>
<path d="M508.4,516.1 514.0,518.0 518.1,522.0 520.0,528.8 517.1,533.7" fill="none" stroke="#d3d3d3" stroke-width="0.8" stroke-linejoin="round" stroke-linecap="round"/>
<path d="M597.9,643.8 604.3,645.5" fill="none" stroke="#d3d3d3" stroke-width="0.8" stroke-linejoin="round" stroke-linecap="round"/>
<path d="M785.0,692.5 789.0,695.5 792.5,698.5" fill="none" stroke="#ffffff" stroke-width="1.2" stroke-linejoin="round" stroke-linecap="round"/>
<path d="M441.0,586.2 446.0,586.8" fill="none" stroke="#ffffff" stroke-width="1.1" stroke-linejoin="round" stroke-linecap="round"/>
<path d="M452.0,587.5 458.0,588.0" fill="none" stroke="#ffffff" stroke-width="1.1" stroke-linejoin="round" stroke-linecap="round"/>
<path d="M464.0,589.8 469.0,591.5" fill="none" stroke="#ffffff" stroke-width="1.1" stroke-linejoin="round" stroke-linecap="round"/>
<path d="M476.0,595.5 480.0,597.8" fill="none" stroke="#ffffff" stroke-width="1.1" stroke-linejoin="round" stroke-linecap="round"/>
<path d="M488.0,598.9 493.0,599.0" fill="none" stroke="#ffffff" stroke-width="1.1" stroke-linejoin="round" stroke-linecap="round"/>
<path d="M500.0,599.3 504.0,600.8" fill="none" stroke="#ffffff" stroke-width="1.1" stroke-linejoin="round" stroke-linecap="round"/>
<path d="M509.0,604.5 513.0,608.0" fill="none" stroke="#ffffff" stroke-width="1.1" stroke-linejoin="round" stroke-linecap="round"/>
<path d="M398.0,608.5 404.0,609.0" fill="none" stroke="#ffffff" stroke-width="1.1" stroke-linejoin="round" stroke-linecap="round"/>
<path d="M417.0,615.5 423.0,616.0" fill="none" stroke="#ffffff" stroke-width="1.1" stroke-linejoin="round" stroke-linecap="round"/>
<path d="M426.0,614.8 432.5,614.6" fill="none" stroke="#ffffff" stroke-width="1.1" stroke-linejoin="round" stroke-linecap="round"/>
<path d="M435.6,614.8 440.3,614.6" fill="none" stroke="#ffffff" stroke-width="1.1" stroke-linejoin="round" stroke-linecap="round"/>
<path d="M476.0,625.0 482.0,628.0 488.8,631.0" fill="none" stroke="#ffffff" stroke-width="1.1" stroke-linejoin="round" stroke-linecap="round"/>
<path d="M464.0,651.0 471.6,650.2" fill="none" stroke="#ffffff" stroke-width="1.1" stroke-linejoin="round" stroke-linecap="round"/>
<path d="M438.8,657.8 446.6,658.2" fill="none" stroke="#ffffff" stroke-width="1.1" stroke-linejoin="round" stroke-linecap="round"/>
<path d="M322.0,651.0 324.0,655.0 323.0,659.0" fill="none" stroke="#ffffff" stroke-width="1.2" stroke-linejoin="round" stroke-linecap="round"/>
<path d="M345.0,716.0 350.0,713.5 356.0,712.0" fill="none" stroke="#ffffff" stroke-width="1.2" stroke-linejoin="round" stroke-linecap="round"/>
<path d="M347.0,718.0 353.0,716.5 359.0,715.5" fill="none" stroke="#ffffff" stroke-width="1.0" stroke-linejoin="round" stroke-linecap="round"/>
<path d="M318.0,693.5 320.0,697.0" fill="none" stroke="#ffffff" stroke-width="1.0" stroke-linejoin="round" stroke-linecap="round"/>
<path d="M669.0,788.0 673.0,791.5 677.0,794.5" fill="none" stroke="#ffffff" stroke-width="1.3" stroke-linejoin="round" stroke-linecap="round"/>
<path d="M683.0,789.5 688.0,794.0" fill="none" stroke="#ffffff" stroke-width="1.3" stroke-linejoin="round" stroke-linecap="round"/>
<path d="M660.0,659.8 664.0,658.6 668.4,659.2" fill="none" stroke="#ffffff" stroke-width="1.1" stroke-linejoin="round" stroke-linecap="round"/>
<path d="M536.2,193.8 545.0,188.8 552.5,182.5 562.5,177.5 570.0,175.0 580.0,170.0 587.5,163.8 589.0,161.0" fill="none" stroke="#ffffff" stroke-width="1.3" stroke-linejoin="round" stroke-linecap="round"/>
<path d="M527.5,163.8 531.2,167.5 543.8,170.0 556.2,166.2 568.8,165.6 578.8,168.8 588.8,163.1" fill="none" stroke="#ffffff" stroke-width="0.9" stroke-linejoin="round" stroke-linecap="round"/>
<path d="M592.5,177.5 591.9,185.0 590.0,197.5 585.0,206.2" fill="none" stroke="#ffffff" stroke-width="1.0" stroke-linejoin="round" stroke-linecap="round"/>
<path d="M231.5,185.0 235.0,186.0 239.0,188.3" fill="none" stroke="#ffffff" stroke-width="1.3" stroke-linejoin="round" stroke-linecap="round"/>
<path d="M254.0,197.0 256.0,203.0 258.5,207.0 257.5,211.5" fill="none" stroke="#ffffff" stroke-width="1.3" stroke-linejoin="round" stroke-linecap="round"/>
<path d="M311.5,327.0 314.0,334.0 317.0,341.0 318.5,346.0" fill="none" stroke="#ffffff" stroke-width="1.3" stroke-linejoin="round" stroke-linecap="round"/>
<path d="M322.8,368.5 327.0,368.5 332.0,370.0 336.5,373.0" fill="none" stroke="#ffffff" stroke-width="1.3" stroke-linejoin="round" stroke-linecap="round"/>
<path d="M212.8,371.5 219.0,371.5" fill="none" stroke="#ffffff" stroke-width="1.3" stroke-linejoin="round" stroke-linecap="round"/>
<path d="M344.0,406.0 346.0,399.0 349.0,392.0" fill="none" stroke="#ffffff" stroke-width="1.3" stroke-linejoin="round" stroke-linecap="round"/>
<path d="M470.0,322.0 475.0,326.0" fill="none" stroke="#ffffff" stroke-width="1.3" stroke-linejoin="round" stroke-linecap="round"/>
<path d="M490.0,332.0 497.0,335.0 503.0,336.0 510.0,336.0" fill="none" stroke="#ffffff" stroke-width="1.3" stroke-linejoin="round" stroke-linecap="round"/>
<path d="M390.0,379.0 395.0,376.0" fill="none" stroke="#ffffff" stroke-width="1.3" stroke-linejoin="round" stroke-linecap="round"/>
<path d="M407.5,373.0 415.0,376.0" fill="none" stroke="#ffffff" stroke-width="1.3" stroke-linejoin="round" stroke-linecap="round"/>
<path d="M417.5,384.0 421.0,386.0 425.0,389.0" fill="none" stroke="#ffffff" stroke-width="1.3" stroke-linejoin="round" stroke-linecap="round"/>
<path d="M437.5,381.5 444.0,382.5" fill="none" stroke="#ffffff" stroke-width="1.3" stroke-linejoin="round" stroke-linecap="round"/>
<path d="M457.5,391.0 462.0,393.0 467.5,395.5" fill="none" stroke="#ffffff" stroke-width="1.3" stroke-linejoin="round" stroke-linecap="round"/>
<path d="M516.0,216.0 518.0,222.0" fill="none" stroke="#ffffff" stroke-width="1.3" stroke-linejoin="round" stroke-linecap="round"/>
<path d="M520.0,217.0 521.0,224.0" fill="none" stroke="#ffffff" stroke-width="1.3" stroke-linejoin="round" stroke-linecap="round"/>
<path d="M524.0,216.0 525.0,225.0" fill="none" stroke="#ffffff" stroke-width="1.3" stroke-linejoin="round" stroke-linecap="round"/>
<path d="M528.0,218.0 529.0,224.0" fill="none" stroke="#ffffff" stroke-width="1.3" stroke-linejoin="round" stroke-linecap="round"/>
<path d="M532.0,217.0 534.0,223.0" fill="none" stroke="#ffffff" stroke-width="1.3" stroke-linejoin="round" stroke-linecap="round"/>
<path d="M540.0,210.0 545.0,211.5" fill="none" stroke="#ffffff" stroke-width="1.3" stroke-linejoin="round" stroke-linecap="round"/>
<path d="M222.8,714.0 230.0,717.0 240.0,721.5" fill="none" stroke="#ffffff" stroke-width="1.3" stroke-linejoin="round" stroke-linecap="round"/>
<path d="M319.6,769.0 323.0,772.0 329.0,776.0" fill="none" stroke="#ffffff" stroke-width="1.3" stroke-linejoin="round" stroke-linecap="round"/>
<path d="M344.6,788.0 352.4,790.0" fill="none" stroke="#ffffff" stroke-width="1.3" stroke-linejoin="round" stroke-linecap="round"/>
<path d="M430.8,481.0 433.0,483.0 436.6,484.0" fill="none" stroke="#ffffff" stroke-width="1.3" stroke-linejoin="round" stroke-linecap="round"/>
<path d="M438.6,491.0 440.0,495.0 442.0,500.0" fill="none" stroke="#ffffff" stroke-width="1.3" stroke-linejoin="round" stroke-linecap="round"/>
<path d="M147.8,386.5 152.0,385.0 156.5,386.0" fill="none" stroke="#ffffff" stroke-width="1.3" stroke-linejoin="round" stroke-linecap="round"/>
<path d="M364.0,336.0 369.0,335.0" fill="none" stroke="#ffffff" stroke-width="1.3" stroke-linejoin="round" stroke-linecap="round"/>
<path d="M488.0,186.0 493.0,188.0 498.0,187.0 503.0,186.0" fill="none" stroke="#ffffff" stroke-width="1.1" stroke-linejoin="round" stroke-linecap="round"/>
<path d="M490.0,189.0 494.0,190.0 497.0,189.5" fill="none" stroke="#ffffff" stroke-width="0.9" stroke-linejoin="round" stroke-linecap="round"/>
<path d="M475.0,183.5 478.0,186.0" fill="none" stroke="#ffffff" stroke-width="1.0" stroke-linejoin="round" stroke-linecap="round"/>
<path d="M432.6,560.5 440.0,557.8 448.3,555.8 453.8,553.0 457.8,550.3 459.9,548.2" fill="none" stroke="#ffffff" stroke-width="1.0" stroke-linejoin="round" stroke-linecap="round"/>
<path d="M795.0,837.0 797.0,842.0 800.0,848.0 802.0,852.0 801.0,857.0 805.0,859.0" fill="none" stroke="#ffffff" stroke-width="0.9" stroke-linejoin="round" stroke-linecap="round"/>
<path d="M824.0,847.0 823.0,851.0 821.0,856.0 818.0,859.0" fill="none" stroke="#ffffff" stroke-width="0.9" stroke-linejoin="round" stroke-linecap="round"/>
<path d="M578.8,259.8 585.8,259.4 592.8,258.6 597.5,257.8 602.2,256.2 606.9,254.7 611.6,252.7 616.2,251.2 619.4,250.0 624.1,248.4" fill="none" stroke="#ffffff" stroke-width="0.9" stroke-linejoin="round" stroke-linecap="round"/>
<path d="M537.5,316.2 530.0,310.0 523.4,305.6" fill="none" stroke="#cfff30" stroke-width="1.3" stroke-linejoin="round" stroke-linecap="round"/>
<path d="M538.7,310.3 532.0,304.0 526.0,300.0" fill="none" stroke="#9fff60" stroke-width="1.0" stroke-linejoin="round" stroke-linecap="round"/>
<path d="M539.5,321.0 533.0,318.0 528.0,316.0" fill="none" stroke="#9fff60" stroke-width="1.0" stroke-linejoin="round" stroke-linecap="round"/>
<path d="M535.2,283.0 530.0,281.0 526.0,282.0" fill="none" stroke="#9fff60" stroke-width="1.0" stroke-linejoin="round" stroke-linecap="round"/>
<path d="M649.6,232.2 651.5,232.8 653.5,234.5 654.6,237.5 654.5,240.4" fill="none" stroke="#ffffff" stroke-width="0.8" stroke-linejoin="round" stroke-linecap="round"/>
<path d="M459,505h1v1h-1zM439,518h1v1h-1zM455,500h1v1h-1zM446,533h1v1h-1zM456,502h1v1h-1zM440,532h1v1h-1zM458,517h1v1h-1zM442,516h1v1h-1zM452,529h1v1h-1zM458,536h1v1h-1zM441,532h1v1h-1zM439,523h1v1h-1zM455,506h1v1h-1zM452,500h1v1h-1zM454,529h1v1h-1zM454,510h1v1h-1zM441,526h1v1h-1zM452,535h1v1h-1zM442,528h1v1h-1zM458,502h1v1h-1zM449,528h1v1h-1zM440,518h1v1h-1zM438,516h1v1h-1zM457,499h1v1h-1zM456,499h1v1h-1zM446,523h1v1h-1zM443,518h1v1h-1zM458,521h1v1h-1zM461,524h1v1h-1zM452,492h1v1h-1zM440,517h1v1h-1zM436,528h1v1h-1zM452,505h1v1h-1zM456,529h1v1h-1zM455,534h1v1h-1zM459,504h1v1h-1zM446,509h1v1h-1zM453,506h1v1h-1zM441,519h1v1h-1zM437,527h1v1h-1zM440,515h1v1h-1zM435,522h1v1h-1zM453,502h1v1h-1zM454,523h1v1h-1zM461,528h1v1h-1zM463,529h1v1h-1zM463,523h1v1h-1zM456,526h1v1h-1zM448,517h1v1h-1zM437,523h1v1h-1zM452,535h1v1h-1zM455,515h1v1h-1zM439,522h1v1h-1zM455,512h1v1h-1zM453,511h1v1h-1zM450,528h1v1h-1zM447,514h1v1h-1zM448,519h1v1h-1zM458,501h1v1h-1zM453,530h1v1h-1zM434,520h1v1h-1zM449,531h1v1h-1zM438,523h1v1h-1zM445,520h1v1h-1zM450,521h1v1h-1zM451,511h1v1h-1zM457,513h1v1h-1zM453,529h1v1h-1zM446,517h1v1h-1zM458,523h1v1h-1zM455,507h1v1h-1zM456,518h1v1h-1zM454,502h1v1h-1zM444,523h1v1h-1zM454,522h1v1h-1z" fill="#d3d3d3" shape-rendering="crispEdges"/>
<path d="M462,532h1v1h-1zM455,530h1v1h-1zM451,515h1v1h-1zM455,495h1v1h-1zM462,528h1v1h-1zM445,523h1v1h-1zM452,506h1v1h-1zM439,527h1v1h-1zM442,516h1v1h-1zM449,518h1v1h-1zM455,493h1v1h-1zM444,534h1v1h-1zM444,533h1v1h-1zM449,517h1v1h-1zM446,516h1v1h-1zM434,522h1v1h-1zM444,529h1v1h-1zM461,517h1v1h-1zM453,498h1v1h-1zM439,528h1v1h-1zM445,523h1v1h-1zM451,522h1v1h-1zM445,518h1v1h-1zM455,492h1v1h-1zM451,528h1v1h-1zM454,510h1v1h-1zM450,522h1v1h-1zM446,524h1v1h-1zM445,521h1v1h-1zM440,520h1v1h-1zM438,523h1v1h-1zM454,518h1v1h-1zM456,502h1v1h-1zM459,519h1v1h-1zM455,523h1v1h-1zM444,519h1v1h-1zM441,531h1v1h-1zM458,508h1v1h-1zM453,499h1v1h-1zM458,510h1v1h-1zM449,529h1v1h-1zM458,523h1v1h-1zM461,524h1v1h-1zM462,528h1v1h-1zM459,505h1v1h-1zM453,492h1v1h-1zM448,522h1v1h-1zM463,513h1v1h-1zM455,535h1v1h-1zM443,510h1v1h-1zM457,514h1v1h-1zM457,507h1v1h-1zM460,513h1v1h-1zM443,529h1v1h-1z" fill="#ffffff" shape-rendering="crispEdges"/>
<path d="M438,514h1v1h-1zM435,511h1v1h-1zM441,508h1v1h-1zM442,512h1v1h-1zM438,511h1v1h-1zM433,509h1v1h-1zM435,514h1v1h-1zM436,512h1v1h-1zM433,514h1v1h-1zM442,510h1v1h-1zM440,513h1v1h-1zM435,512h1v1h-1zM432,511h1v1h-1zM434,509h1v1h-1zM439,512h1v1h-1zM437,513h1v1h-1zM435,513h1v1h-1zM435,515h1v1h-1zM438,510h1v1h-1zM434,516h1v1h-1z" fill="#880000" shape-rendering="crispEdges"/>
<path d="M432,514h1v1h-1zM435,512h1v1h-1z" fill="#df0000" shape-rendering="crispEdges"/>
<path d="M438,510h1v1h-1zM438,510h1v1h-1zM433,512h1v1h-1z" fill="#ff7000" shape-rendering="crispEdges"/>
<path d="M462,507h1v1h-1zM458,506h1v1h-1zM460,505h1v1h-1zM450,484h1v1h-1zM450,483h1v1h-1zM455,489h1v1h-1zM462,505h1v1h-1zM458,497h1v1h-1zM458,497h1v1h-1zM450,490h1v1h-1zM448,487h1v1h-1zM458,500h1v1h-1zM446,477h1v1h-1zM449,478h1v1h-1zM452,494h1v1h-1zM459,504h1v1h-1zM458,495h1v1h-1zM451,488h1v1h-1zM458,503h1v1h-1zM449,477h1v1h-1zM458,497h1v1h-1zM449,491h1v1h-1zM452,490h1v1h-1zM458,505h1v1h-1zM460,503h1v1h-1zM449,484h1v1h-1zM459,498h1v1h-1zM454,486h1v1h-1zM450,495h1v1h-1zM452,496h1v1h-1zM457,492h1v1h-1zM457,504h1v1h-1zM447,485h1v1h-1zM460,499h1v1h-1zM450,479h1v1h-1zM462,505h1v1h-1zM455,486h1v1h-1zM450,479h1v1h-1zM460,497h1v1h-1zM452,489h1v1h-1zM454,497h1v1h-1zM456,497h1v1h-1zM459,501h1v1h-1zM458,507h1v1h-1zM456,507h1v1h-1zM455,505h1v1h-1zM459,506h1v1h-1zM449,494h1v1h-1zM455,500h1v1h-1zM449,488h1v1h-1zM449,485h1v1h-1zM459,502h1v1h-1zM452,497h1v1h-1zM456,494h1v1h-1zM458,500h1v1h-1zM456,506h1v1h-1zM451,480h1v1h-1zM453,487h1v1h-1zM452,480h1v1h-1zM456,489h1v1h-1zM459,503h1v1h-1zM456,499h1v1h-1zM455,488h1v1h-1zM462,506h1v1h-1zM448,481h1v1h-1zM453,493h1v1h-1zM454,487h1v1h-1zM447,482h1v1h-1zM460,507h1v1h-1zM451,481h1v1h-1zM449,484h1v1h-1zM451,481h1v1h-1zM452,492h1v1h-1zM455,499h1v1h-1zM451,480h1v1h-1zM453,493h1v1h-1zM449,480h1v1h-1zM451,492h1v1h-1zM453,485h1v1h-1zM454,486h1v1h-1zM453,482h1v1h-1zM457,493h1v1h-1zM457,504h1v1h-1zM449,490h1v1h-1zM451,493h1v1h-1zM452,483h1v1h-1zM448,477h1v1h-1zM450,483h1v1h-1zM451,479h1v1h-1zM446,478h1v1h-1zM458,502h1v1h-1zM453,493h1v1h-1zM453,491h1v1h-1zM445,480h1v1h-1zM457,508h1v1h-1zM460,501h1v1h-1zM457,508h1v1h-1zM445,479h1v1h-1zM454,483h1v1h-1zM453,502h1v1h-1zM459,504h1v1h-1zM452,486h1v1h-1zM455,503h1v1h-1zM457,493h1v1h-1zM453,486h1v1h-1zM462,507h1v1h-1zM449,487h1v1h-1zM458,506h1v1h-1zM454,502h1v1h-1zM449,478h1v1h-1zM452,481h1v1h-1zM460,500h1v1h-1zM453,486h1v1h-1zM460,499h1v1h-1zM449,491h1v1h-1zM451,479h1v1h-1zM459,501h1v1h-1zM457,504h1v1h-1zM453,488h1v1h-1zM457,508h1v1h-1zM447,476h1v1h-1zM449,484h1v1h-1zM452,489h1v1h-1zM456,497h1v1h-1zM458,505h1v1h-1zM450,494h1v1h-1zM453,502h1v1h-1zM454,504h1v1h-1zM459,497h1v1h-1zM452,488h1v1h-1zM457,506h1v1h-1zM449,479h1v1h-1zM454,490h1v1h-1zM455,505h1v1h-1zM454,498h1v1h-1zM453,496h1v1h-1zM452,500h1v1h-1zM459,502h1v1h-1zM457,506h1v1h-1zM453,492h1v1h-1zM458,497h1v1h-1zM454,485h1v1h-1zM448,488h1v1h-1zM447,480h1v1h-1zM460,501h1v1h-1zM457,496h1v1h-1zM453,483h1v1h-1zM459,505h1v1h-1zM457,492h1v1h-1zM458,507h1v1h-1zM453,492h1v1h-1zM460,499h1v1h-1zM457,502h1v1h-1zM455,496h1v1h-1zM448,484h1v1h-1zM452,494h1v1h-1zM453,482h1v1h-1zM448,482h1v1h-1zM456,492h1v1h-1zM455,498h1v1h-1zM451,494h1v1h-1zM454,485h1v1h-1zM453,503h1v1h-1z" fill="#880000" shape-rendering="crispEdges"/>
<path d="M448,485h1v1h-1zM454,501h1v1h-1zM448,479h1v1h-1zM457,496h1v1h-1zM447,476h1v1h-1zM459,500h1v1h-1zM450,487h1v1h-1zM454,483h1v1h-1zM450,485h1v1h-1zM457,503h1v1h-1zM452,501h1v1h-1zM448,483h1v1h-1zM457,497h1v1h-1z" fill="#ffca00" shape-rendering="crispEdges"/>
<path d="M454,498h1v1h-1zM457,503h1v1h-1zM454,486h1v1h-1zM452,483h1v1h-1zM459,494h1v1h-1zM446,483h1v1h-1zM453,499h1v1h-1zM450,479h1v1h-1zM452,494h1v1h-1z" fill="#ff7000" shape-rendering="crispEdges"/>
<path d="M462,506h1v1h-1zM451,480h1v1h-1zM460,503h1v1h-1zM457,501h1v1h-1zM452,485h1v1h-1zM458,494h1v1h-1zM454,483h1v1h-1zM456,487h1v1h-1zM453,490h1v1h-1z" fill="#df0000" shape-rendering="crispEdges"/>
<path d="M442,463h1v1h-1zM445,473h1v1h-1zM444,467h1v1h-1zM447,473h1v1h-1zM444,473h1v1h-1zM442,468h1v1h-1zM446,468h1v1h-1zM441,467h1v1h-1zM443,470h1v1h-1zM443,463h1v1h-1zM443,466h1v1h-1z" fill="#880000" shape-rendering="crispEdges"/>
<path d="M446,473h1v1h-1z" fill="#ffca00" shape-rendering="crispEdges"/>
<path d="M417,479h1v1h-1zM415,485h1v1h-1zM421,512h1v1h-1zM428,523h1v1h-1zM415,491h1v1h-1zM415,481h1v1h-1zM408,467h1v1h-1zM421,511h1v1h-1zM415,496h1v1h-1zM414,486h1v1h-1zM429,521h1v1h-1zM401,460h1v1h-1zM419,514h1v1h-1zM402,468h1v1h-1zM429,522h1v1h-1zM422,515h1v1h-1zM414,505h1v1h-1zM419,514h1v1h-1zM416,493h1v1h-1zM404,468h1v1h-1zM414,486h1v1h-1zM413,484h1v1h-1zM405,472h1v1h-1zM416,486h1v1h-1zM431,524h1v1h-1zM405,471h1v1h-1zM429,525h1v1h-1zM415,488h1v1h-1zM416,501h1v1h-1zM414,497h1v1h-1zM404,466h1v1h-1zM412,502h1v1h-1zM415,509h1v1h-1zM413,505h1v1h-1zM414,503h1v1h-1zM408,469h1v1h-1zM419,512h1v1h-1zM430,526h1v1h-1zM416,497h1v1h-1zM427,520h1v1h-1zM410,469h1v1h-1zM421,513h1v1h-1zM407,472h1v1h-1zM405,465h1v1h-1zM429,523h1v1h-1zM409,474h1v1h-1zM417,513h1v1h-1zM416,481h1v1h-1zM421,517h1v1h-1zM417,507h1v1h-1zM415,486h1v1h-1zM429,524h1v1h-1zM409,471h1v1h-1zM395,461h1v1h-1zM408,469h1v1h-1zM416,499h1v1h-1zM426,518h1v1h-1zM414,492h1v1h-1zM411,471h1v1h-1zM415,485h1v1h-1zM424,515h1v1h-1zM430,529h1v1h-1zM412,478h1v1h-1zM411,477h1v1h-1zM414,489h1v1h-1zM407,470h1v1h-1zM413,499h1v1h-1zM416,510h1v1h-1zM413,477h1v1h-1zM401,468h1v1h-1zM413,499h1v1h-1zM424,517h1v1h-1zM408,469h1v1h-1zM404,467h1v1h-1zM420,513h1v1h-1zM417,510h1v1h-1zM432,523h1v1h-1zM411,472h1v1h-1zM419,514h1v1h-1zM415,510h1v1h-1zM409,473h1v1h-1zM396,461h1v1h-1zM415,509h1v1h-1zM409,472h1v1h-1zM401,463h1v1h-1zM405,466h1v1h-1zM416,500h1v1h-1zM416,489h1v1h-1zM413,495h1v1h-1zM417,507h1v1h-1zM404,470h1v1h-1zM430,522h1v1h-1zM432,529h1v1h-1zM415,509h1v1h-1zM401,463h1v1h-1zM427,518h1v1h-1zM413,493h1v1h-1zM415,499h1v1h-1zM410,475h1v1h-1zM415,498h1v1h-1zM413,491h1v1h-1zM412,475h1v1h-1zM415,486h1v1h-1zM430,521h1v1h-1zM415,476h1v1h-1zM408,474h1v1h-1zM415,474h1v1h-1zM416,486h1v1h-1zM419,515h1v1h-1zM410,472h1v1h-1zM430,523h1v1h-1zM402,464h1v1h-1zM403,470h1v1h-1zM415,493h1v1h-1zM430,521h1v1h-1zM413,475h1v1h-1zM415,507h1v1h-1zM403,469h1v1h-1zM417,508h1v1h-1zM414,486h1v1h-1zM428,521h1v1h-1zM415,511h1v1h-1zM412,500h1v1h-1zM415,491h1v1h-1zM406,471h1v1h-1zM417,492h1v1h-1zM414,477h1v1h-1zM412,471h1v1h-1zM412,499h1v1h-1zM399,463h1v1h-1zM398,459h1v1h-1zM416,511h1v1h-1zM400,467h1v1h-1zM409,473h1v1h-1zM416,501h1v1h-1zM429,521h1v1h-1zM416,512h1v1h-1zM416,480h1v1h-1zM396,463h1v1h-1zM394,461h1v1h-1zM426,519h1v1h-1zM414,491h1v1h-1zM430,524h1v1h-1zM412,475h1v1h-1zM417,507h1v1h-1zM401,463h1v1h-1zM419,511h1v1h-1zM410,469h1v1h-1zM410,471h1v1h-1zM423,516h1v1h-1zM398,459h1v1h-1zM414,488h1v1h-1zM414,502h1v1h-1zM402,463h1v1h-1zM408,471h1v1h-1zM430,528h1v1h-1zM412,477h1v1h-1zM411,477h1v1h-1zM415,476h1v1h-1zM394,461h1v1h-1zM421,516h1v1h-1zM401,463h1v1h-1zM430,521h1v1h-1zM413,480h1v1h-1zM421,516h1v1h-1zM406,472h1v1h-1zM427,520h1v1h-1zM416,493h1v1h-1zM402,469h1v1h-1zM414,482h1v1h-1zM417,513h1v1h-1zM402,463h1v1h-1zM411,478h1v1h-1zM420,515h1v1h-1zM400,467h1v1h-1zM417,507h1v1h-1zM405,467h1v1h-1zM415,498h1v1h-1zM414,487h1v1h-1zM430,525h1v1h-1zM412,500h1v1h-1zM412,505h1v1h-1zM414,482h1v1h-1zM413,473h1v1h-1zM414,493h1v1h-1z" fill="#880000" shape-rendering="crispEdges"/>
<path d="M407,470h1v1h-1zM415,500h1v1h-1zM413,492h1v1h-1zM413,494h1v1h-1zM413,497h1v1h-1zM412,474h1v1h-1zM412,476h1v1h-1zM409,469h1v1h-1zM422,516h1v1h-1zM413,493h1v1h-1z" fill="#ff7000" shape-rendering="crispEdges"/>
<path d="M414,485h1v1h-1zM414,493h1v1h-1zM416,509h1v1h-1zM430,524h1v1h-1zM413,499h1v1h-1zM405,472h1v1h-1zM417,508h1v1h-1zM401,465h1v1h-1zM402,469h1v1h-1zM413,492h1v1h-1zM413,499h1v1h-1zM414,489h1v1h-1zM406,465h1v1h-1z" fill="#ffca00" shape-rendering="crispEdges"/>
<path d="M416,476h1v1h-1zM403,463h1v1h-1zM412,472h1v1h-1zM413,503h1v1h-1zM420,516h1v1h-1zM416,488h1v1h-1zM408,471h1v1h-1zM414,486h1v1h-1zM412,495h1v1h-1zM413,505h1v1h-1z" fill="#df0000" shape-rendering="crispEdges"/>
<path d="M398,462h1v1h-1zM412,471h1v1h-1zM409,470h1v1h-1zM409,468h1v1h-1zM400,463h1v1h-1zM406,464h1v1h-1zM409,465h1v1h-1zM401,462h1v1h-1zM397,461h1v1h-1zM408,466h1v1h-1zM406,465h1v1h-1zM407,469h1v1h-1zM409,468h1v1h-1zM413,469h1v1h-1zM411,472h1v1h-1zM401,464h1v1h-1zM403,462h1v1h-1zM400,462h1v1h-1zM407,464h1v1h-1zM404,466h1v1h-1zM404,466h1v1h-1zM401,461h1v1h-1zM404,462h1v1h-1zM414,471h1v1h-1zM406,469h1v1h-1zM410,466h1v1h-1zM407,463h1v1h-1zM412,469h1v1h-1zM412,468h1v1h-1zM413,471h1v1h-1zM404,466h1v1h-1zM409,471h1v1h-1zM413,472h1v1h-1zM412,467h1v1h-1zM403,463h1v1h-1zM403,462h1v1h-1zM408,466h1v1h-1zM413,470h1v1h-1zM409,471h1v1h-1zM404,462h1v1h-1zM414,471h1v1h-1zM411,467h1v1h-1zM407,463h1v1h-1zM402,462h1v1h-1zM406,467h1v1h-1zM408,467h1v1h-1zM409,470h1v1h-1zM412,468h1v1h-1zM402,462h1v1h-1zM408,467h1v1h-1z" fill="#880000" shape-rendering="crispEdges"/>
<path d="M403,465h1v1h-1zM410,466h1v1h-1zM413,471h1v1h-1z" fill="#ff7000" shape-rendering="crispEdges"/>
<path d="M413,472h1v1h-1zM402,460h1v1h-1z" fill="#ffca00" shape-rendering="crispEdges"/>
<path d="M405,465h1v1h-1z" fill="#df0000" shape-rendering="crispEdges"/>
<path d="M374,460h1v1h-1zM408,467h1v1h-1z" fill="#df0000" shape-rendering="crispEdges"/>
<path d="M378,460h1v1h-1zM411,471h1v1h-1zM357,452h1v1h-1zM375,463h1v1h-1zM358,452h1v1h-1zM385,457h1v1h-1zM357,451h1v1h-1zM387,455h1v1h-1zM390,460h1v1h-1zM370,463h1v1h-1zM356,455h1v1h-1zM359,454h1v1h-1zM414,471h1v1h-1zM373,461h1v1h-1zM395,455h1v1h-1zM389,458h1v1h-1zM376,459h1v1h-1zM377,461h1v1h-1zM415,474h1v1h-1zM396,458h1v1h-1zM358,452h1v1h-1zM402,464h1v1h-1zM402,466h1v1h-1zM415,472h1v1h-1zM407,469h1v1h-1zM369,457h1v1h-1zM359,453h1v1h-1zM390,453h1v1h-1zM395,452h1v1h-1zM395,459h1v1h-1zM359,451h1v1h-1zM375,458h1v1h-1zM368,455h1v1h-1zM370,457h1v1h-1zM383,460h1v1h-1zM365,456h1v1h-1zM378,461h1v1h-1zM410,467h1v1h-1zM376,462h1v1h-1zM386,457h1v1h-1zM375,460h1v1h-1zM406,468h1v1h-1zM393,459h1v1h-1zM386,459h1v1h-1zM397,463h1v1h-1zM364,455h1v1h-1zM387,455h1v1h-1zM360,452h1v1h-1zM394,456h1v1h-1zM414,471h1v1h-1zM378,461h1v1h-1zM414,471h1v1h-1zM366,461h1v1h-1zM400,462h1v1h-1zM381,458h1v1h-1zM397,460h1v1h-1zM361,453h1v1h-1zM365,460h1v1h-1zM414,473h1v1h-1zM412,471h1v1h-1zM369,461h1v1h-1zM399,463h1v1h-1zM362,459h1v1h-1zM397,461h1v1h-1zM402,465h1v1h-1zM403,460h1v1h-1zM391,455h1v1h-1zM395,455h1v1h-1zM375,460h1v1h-1z" fill="#880000" shape-rendering="crispEdges"/>
<path d="M407,466h1v1h-1zM370,463h1v1h-1zM409,469h1v1h-1zM402,461h1v1h-1z" fill="#ffca00" shape-rendering="crispEdges"/>
<path d="M408,466h1v1h-1zM397,458h1v1h-1zM399,458h1v1h-1zM401,460h1v1h-1z" fill="#ff7000" shape-rendering="crispEdges"/>
<path d="M456,405h1v1h-1zM438,432h1v1h-1zM444,410h1v1h-1zM487,392h1v1h-1zM464,400h1v1h-1zM435,422h1v1h-1zM493,385h1v1h-1zM482,391h1v1h-1zM486,388h1v1h-1zM439,433h1v1h-1zM437,424h1v1h-1zM465,404h1v1h-1zM498,381h1v1h-1zM470,402h1v1h-1zM437,452h1v1h-1zM436,428h1v1h-1zM444,422h1v1h-1zM496,381h1v1h-1zM448,416h1v1h-1zM440,448h1v1h-1zM438,438h1v1h-1zM479,391h1v1h-1zM442,430h1v1h-1zM436,448h1v1h-1zM436,419h1v1h-1zM442,417h1v1h-1zM448,420h1v1h-1zM441,411h1v1h-1zM433,428h1v1h-1zM439,445h1v1h-1zM477,392h1v1h-1zM462,406h1v1h-1zM436,432h1v1h-1zM463,406h1v1h-1zM438,439h1v1h-1zM437,414h1v1h-1zM454,408h1v1h-1zM437,447h1v1h-1zM466,402h1v1h-1zM467,404h1v1h-1zM439,417h1v1h-1zM481,390h1v1h-1zM435,433h1v1h-1zM459,409h1v1h-1zM496,383h1v1h-1zM489,390h1v1h-1zM488,386h1v1h-1zM443,418h1v1h-1zM444,425h1v1h-1zM439,444h1v1h-1zM472,398h1v1h-1zM459,407h1v1h-1zM479,390h1v1h-1zM442,411h1v1h-1zM450,409h1v1h-1zM443,427h1v1h-1zM485,391h1v1h-1zM454,412h1v1h-1zM436,452h1v1h-1zM438,457h1v1h-1zM437,440h1v1h-1zM486,392h1v1h-1zM443,421h1v1h-1zM484,388h1v1h-1zM436,427h1v1h-1zM465,401h1v1h-1zM499,382h1v1h-1zM478,392h1v1h-1zM460,407h1v1h-1zM445,417h1v1h-1zM435,423h1v1h-1zM444,420h1v1h-1zM498,383h1v1h-1zM438,424h1v1h-1zM446,420h1v1h-1zM460,406h1v1h-1zM492,383h1v1h-1zM442,426h1v1h-1zM486,391h1v1h-1zM480,397h1v1h-1zM457,411h1v1h-1zM440,413h1v1h-1zM474,397h1v1h-1zM460,403h1v1h-1zM488,392h1v1h-1zM502,379h1v1h-1zM452,404h1v1h-1zM435,434h1v1h-1zM441,416h1v1h-1zM435,419h1v1h-1zM437,425h1v1h-1zM438,426h1v1h-1zM442,422h1v1h-1zM438,450h1v1h-1zM477,395h1v1h-1zM437,420h1v1h-1zM483,392h1v1h-1zM478,394h1v1h-1zM472,401h1v1h-1zM469,403h1v1h-1zM439,411h1v1h-1zM466,404h1v1h-1zM469,397h1v1h-1zM462,400h1v1h-1zM440,440h1v1h-1zM470,402h1v1h-1zM486,393h1v1h-1zM441,423h1v1h-1zM470,397h1v1h-1zM439,436h1v1h-1zM437,418h1v1h-1zM443,417h1v1h-1zM470,398h1v1h-1zM449,407h1v1h-1zM440,429h1v1h-1zM471,402h1v1h-1zM443,423h1v1h-1zM434,436h1v1h-1zM438,460h1v1h-1zM477,392h1v1h-1zM451,412h1v1h-1zM436,423h1v1h-1zM440,452h1v1h-1zM489,386h1v1h-1zM487,388h1v1h-1zM453,410h1v1h-1zM448,409h1v1h-1zM460,401h1v1h-1zM494,384h1v1h-1zM491,386h1v1h-1zM440,427h1v1h-1zM438,423h1v1h-1zM442,423h1v1h-1zM439,456h1v1h-1zM435,435h1v1h-1zM491,383h1v1h-1zM463,409h1v1h-1zM452,411h1v1h-1zM455,411h1v1h-1zM501,384h1v1h-1zM465,399h1v1h-1zM474,401h1v1h-1zM499,384h1v1h-1zM476,393h1v1h-1zM437,436h1v1h-1zM440,458h1v1h-1zM438,448h1v1h-1zM445,407h1v1h-1zM476,395h1v1h-1zM500,385h1v1h-1zM468,398h1v1h-1zM447,419h1v1h-1zM437,426h1v1h-1zM491,388h1v1h-1zM464,399h1v1h-1zM466,406h1v1h-1zM461,404h1v1h-1zM482,388h1v1h-1zM468,400h1v1h-1zM480,392h1v1h-1zM450,409h1v1h-1zM500,382h1v1h-1zM458,407h1v1h-1zM440,415h1v1h-1zM442,408h1v1h-1zM478,390h1v1h-1zM474,399h1v1h-1zM496,386h1v1h-1zM488,386h1v1h-1zM500,380h1v1h-1zM442,420h1v1h-1zM441,426h1v1h-1zM445,424h1v1h-1zM458,410h1v1h-1zM437,441h1v1h-1zM461,401h1v1h-1zM440,411h1v1h-1zM477,399h1v1h-1zM495,386h1v1h-1zM433,429h1v1h-1zM483,394h1v1h-1zM483,396h1v1h-1zM451,416h1v1h-1zM453,411h1v1h-1zM444,420h1v1h-1zM437,425h1v1h-1zM438,432h1v1h-1zM439,457h1v1h-1zM455,403h1v1h-1zM435,437h1v1h-1zM438,422h1v1h-1zM456,404h1v1h-1zM442,411h1v1h-1zM482,389h1v1h-1zM463,404h1v1h-1zM478,396h1v1h-1zM433,425h1v1h-1z" fill="#880000" shape-rendering="crispEdges"/>
<path d="M432,424h1v1h-1zM436,438h1v1h-1zM445,407h1v1h-1zM444,412h1v1h-1zM455,403h1v1h-1zM439,451h1v1h-1zM483,390h1v1h-1zM478,400h1v1h-1zM456,412h1v1h-1zM486,393h1v1h-1zM434,431h1v1h-1zM436,429h1v1h-1z" fill="#ffca00" shape-rendering="crispEdges"/>
<path d="M439,454h1v1h-1zM484,389h1v1h-1zM458,406h1v1h-1zM444,420h1v1h-1zM484,386h1v1h-1zM462,402h1v1h-1zM473,401h1v1h-1zM438,430h1v1h-1zM453,411h1v1h-1zM448,407h1v1h-1zM470,405h1v1h-1zM438,456h1v1h-1zM441,424h1v1h-1zM441,460h1v1h-1z" fill="#df0000" shape-rendering="crispEdges"/>
<path d="M462,406h1v1h-1zM436,442h1v1h-1zM482,386h1v1h-1zM488,390h1v1h-1zM437,417h1v1h-1z" fill="#ff7000" shape-rendering="crispEdges"/>
<path d="M439,428h1v1h-1zM436,430h1v1h-1zM440,428h1v1h-1zM438,433h1v1h-1zM436,434h1v1h-1zM438,436h1v1h-1zM439,429h1v1h-1zM436,434h1v1h-1zM440,429h1v1h-1zM440,428h1v1h-1zM441,430h1v1h-1zM443,429h1v1h-1zM437,431h1v1h-1zM437,433h1v1h-1zM437,428h1v1h-1zM438,427h1v1h-1zM441,428h1v1h-1zM437,428h1v1h-1zM441,428h1v1h-1zM438,429h1v1h-1zM437,433h1v1h-1zM443,426h1v1h-1zM441,423h1v1h-1zM439,428h1v1h-1zM442,428h1v1h-1zM443,426h1v1h-1zM439,424h1v1h-1zM442,429h1v1h-1zM436,430h1v1h-1zM444,426h1v1h-1zM436,435h1v1h-1zM436,433h1v1h-1zM437,427h1v1h-1zM441,422h1v1h-1zM438,425h1v1h-1zM441,424h1v1h-1zM440,432h1v1h-1zM437,427h1v1h-1zM437,428h1v1h-1zM439,435h1v1h-1zM438,430h1v1h-1z" fill="#880000" shape-rendering="crispEdges"/>
<path d="M437,430h1v1h-1z" fill="#df0000" shape-rendering="crispEdges"/>
<path d="M440,434h1v1h-1zM442,431h1v1h-1zM442,432h1v1h-1zM442,430h1v1h-1zM441,428h1v1h-1zM439,434h1v1h-1z" fill="#ffca00" shape-rendering="crispEdges"/>
<path d="M438,430h1v1h-1zM440,428h1v1h-1z" fill="#ff7000" shape-rendering="crispEdges"/>
<path d="M490,391h1v1h-1zM490,391h1v1h-1zM493,392h1v1h-1zM488,394h1v1h-1zM490,391h1v1h-1zM493,392h1v1h-1zM495,390h1v1h-1zM489,391h1v1h-1zM489,391h1v1h-1zM492,392h1v1h-1zM486,391h1v1h-1zM486,391h1v1h-1zM489,394h1v1h-1zM490,394h1v1h-1zM490,391h1v1h-1zM493,392h1v1h-1zM489,393h1v1h-1zM492,392h1v1h-1zM489,392h1v1h-1z" fill="#880000" shape-rendering="crispEdges"/>
<path d="M493,390h1v1h-1zM489,392h1v1h-1z" fill="#ff7000" shape-rendering="crispEdges"/>
<path d="M504,377h1v1h-1zM518,367h1v1h-1zM517,350h1v1h-1zM499,357h1v1h-1zM515,358h1v1h-1zM504,353h1v1h-1zM518,348h1v1h-1zM514,352h1v1h-1zM519,346h1v1h-1zM507,365h1v1h-1zM507,371h1v1h-1zM515,344h1v1h-1zM517,356h1v1h-1zM504,376h1v1h-1zM507,350h1v1h-1zM515,361h1v1h-1zM498,357h1v1h-1zM517,346h1v1h-1zM522,349h1v1h-1zM511,356h1v1h-1zM520,366h1v1h-1zM528,360h1v1h-1zM503,360h1v1h-1zM525,356h1v1h-1zM510,355h1v1h-1zM504,347h1v1h-1zM503,360h1v1h-1zM517,363h1v1h-1zM508,357h1v1h-1zM520,368h1v1h-1zM514,363h1v1h-1zM523,357h1v1h-1zM516,361h1v1h-1zM502,371h1v1h-1z" fill="#880000" shape-rendering="crispEdges"/>
<path d="M507,370h1v1h-1zM499,363h1v1h-1zM505,359h1v1h-1zM503,364h1v1h-1z" fill="#ff7000" shape-rendering="crispEdges"/>
<path d="M513,365h1v1h-1zM511,344h1v1h-1zM502,361h1v1h-1zM527,356h1v1h-1zM502,375h1v1h-1z" fill="#df0000" shape-rendering="crispEdges"/>
<path d="M503,346h1v1h-1z" fill="#ffca00" shape-rendering="crispEdges"/>
<path d="M518,365h1v1h-1zM521,365h1v1h-1zM518,366h1v1h-1zM524,363h1v1h-1zM521,368h1v1h-1zM520,367h1v1h-1zM519,362h1v1h-1zM517,366h1v1h-1zM517,365h1v1h-1zM519,363h1v1h-1zM525,365h1v1h-1z" fill="#880000" shape-rendering="crispEdges"/>
<path d="M525,364h1v1h-1zM520,367h1v1h-1zM525,368h1v1h-1z" fill="#ff7000" shape-rendering="crispEdges"/>
<path d="M547,299h1v1h-1zM537,326h1v1h-1zM536,285h1v1h-1zM541,294h1v1h-1zM532,291h1v1h-1zM533,312h1v1h-1zM544,287h1v1h-1zM549,302h1v1h-1zM542,337h1v1h-1zM540,333h1v1h-1zM542,324h1v1h-1zM551,305h1v1h-1zM541,283h1v1h-1zM531,288h1v1h-1zM542,289h1v1h-1zM539,301h1v1h-1zM553,300h1v1h-1zM546,317h1v1h-1zM537,314h1v1h-1zM536,308h1v1h-1zM538,324h1v1h-1zM533,323h1v1h-1zM534,309h1v1h-1zM542,321h1v1h-1zM533,288h1v1h-1zM544,320h1v1h-1zM533,311h1v1h-1zM532,320h1v1h-1zM541,335h1v1h-1zM549,289h1v1h-1zM543,337h1v1h-1zM538,317h1v1h-1zM545,311h1v1h-1zM541,297h1v1h-1zM546,311h1v1h-1zM535,322h1v1h-1zM544,297h1v1h-1zM536,330h1v1h-1zM539,329h1v1h-1zM533,310h1v1h-1zM547,312h1v1h-1zM542,294h1v1h-1zM531,319h1v1h-1zM546,293h1v1h-1zM555,297h1v1h-1zM538,301h1v1h-1zM531,283h1v1h-1zM541,307h1v1h-1zM550,308h1v1h-1zM546,295h1v1h-1zM532,320h1v1h-1zM532,317h1v1h-1zM533,287h1v1h-1zM536,284h1v1h-1zM532,284h1v1h-1zM543,292h1v1h-1zM538,334h1v1h-1zM538,312h1v1h-1zM540,299h1v1h-1zM539,330h1v1h-1zM546,308h1v1h-1zM534,314h1v1h-1zM555,302h1v1h-1zM546,308h1v1h-1zM539,323h1v1h-1zM536,301h1v1h-1zM542,339h1v1h-1zM529,289h1v1h-1zM539,336h1v1h-1zM537,308h1v1h-1zM539,316h1v1h-1zM540,285h1v1h-1zM540,307h1v1h-1zM543,326h1v1h-1zM548,305h1v1h-1zM537,289h1v1h-1zM543,310h1v1h-1zM531,302h1v1h-1zM546,311h1v1h-1zM555,305h1v1h-1zM533,308h1v1h-1zM539,288h1v1h-1zM539,320h1v1h-1zM540,308h1v1h-1zM537,296h1v1h-1zM542,318h1v1h-1zM536,329h1v1h-1zM532,310h1v1h-1zM543,295h1v1h-1zM532,291h1v1h-1zM549,302h1v1h-1zM535,305h1v1h-1zM544,300h1v1h-1zM537,328h1v1h-1zM541,312h1v1h-1zM543,292h1v1h-1z" fill="#880000" shape-rendering="crispEdges"/>
<path d="M541,294h1v1h-1zM537,309h1v1h-1zM546,295h1v1h-1zM537,302h1v1h-1zM553,294h1v1h-1zM548,292h1v1h-1zM549,304h1v1h-1z" fill="#ffca00" shape-rendering="crispEdges"/>
<path d="M541,305h1v1h-1zM549,306h1v1h-1zM531,285h1v1h-1zM532,291h1v1h-1zM530,287h1v1h-1zM541,316h1v1h-1zM547,295h1v1h-1zM544,294h1v1h-1zM543,308h1v1h-1z" fill="#ff7000" shape-rendering="crispEdges"/>
<path d="M545,323h1v1h-1zM551,294h1v1h-1zM532,314h1v1h-1zM541,302h1v1h-1zM531,298h1v1h-1z" fill="#df0000" shape-rendering="crispEdges"/>
<path d="M552,298h1v1h-1zM549,302h1v1h-1zM551,301h1v1h-1zM549,293h1v1h-1zM550,301h1v1h-1zM552,298h1v1h-1zM552,297h1v1h-1zM550,294h1v1h-1zM548,295h1v1h-1zM546,293h1v1h-1zM550,294h1v1h-1zM552,299h1v1h-1zM547,297h1v1h-1zM545,295h1v1h-1zM548,292h1v1h-1zM553,295h1v1h-1zM553,303h1v1h-1zM555,300h1v1h-1zM549,297h1v1h-1zM549,292h1v1h-1zM546,295h1v1h-1zM552,306h1v1h-1zM556,300h1v1h-1zM555,301h1v1h-1zM554,298h1v1h-1zM550,292h1v1h-1zM552,303h1v1h-1zM548,301h1v1h-1zM547,296h1v1h-1zM554,296h1v1h-1zM548,293h1v1h-1zM549,295h1v1h-1z" fill="#880000" shape-rendering="crispEdges"/>
<path d="M553,300h1v1h-1zM548,295h1v1h-1z" fill="#ff7000" shape-rendering="crispEdges"/>
<path d="M546,300h1v1h-1zM548,296h1v1h-1z" fill="#df0000" shape-rendering="crispEdges"/>
<path d="M549,301h1v1h-1z" fill="#ffca00" shape-rendering="crispEdges"/>
<path d="M577,271h1v1h-1zM595,252h1v1h-1zM571,277h1v1h-1zM581,258h1v1h-1zM582,257h1v1h-1zM601,246h1v1h-1zM574,266h1v1h-1zM589,251h1v1h-1zM571,267h1v1h-1zM572,280h1v1h-1zM617,245h1v1h-1zM581,258h1v1h-1zM569,267h1v1h-1zM566,275h1v1h-1zM571,273h1v1h-1zM571,281h1v1h-1zM575,265h1v1h-1zM616,247h1v1h-1zM574,272h1v1h-1zM575,274h1v1h-1zM595,250h1v1h-1zM613,247h1v1h-1zM613,244h1v1h-1z" fill="#880000" shape-rendering="crispEdges"/>
<path d="M580,259h1v1h-1zM596,249h1v1h-1zM590,251h1v1h-1z" fill="#ffca00" shape-rendering="crispEdges"/>
<path d="M242,450h1v1h-1zM244,444h1v1h-1zM256,444h1v1h-1zM251,447h1v1h-1zM257,454h1v1h-1zM239,446h1v1h-1zM255,445h1v1h-1zM257,450h1v1h-1zM250,443h1v1h-1zM245,441h1v1h-1zM247,445h1v1h-1zM242,448h1v1h-1zM242,452h1v1h-1zM240,452h1v1h-1zM249,456h1v1h-1zM246,446h1v1h-1zM258,453h1v1h-1zM258,455h1v1h-1zM254,455h1v1h-1zM256,447h1v1h-1zM255,454h1v1h-1zM261,449h1v1h-1zM241,443h1v1h-1zM244,446h1v1h-1zM253,447h1v1h-1zM253,449h1v1h-1zM259,451h1v1h-1zM250,442h1v1h-1zM250,452h1v1h-1zM256,443h1v1h-1zM259,447h1v1h-1zM246,445h1v1h-1zM242,447h1v1h-1zM254,443h1v1h-1zM251,449h1v1h-1zM257,449h1v1h-1zM241,445h1v1h-1zM245,442h1v1h-1zM258,447h1v1h-1zM246,448h1v1h-1zM240,453h1v1h-1zM259,447h1v1h-1zM238,447h1v1h-1zM242,443h1v1h-1zM244,450h1v1h-1zM256,443h1v1h-1zM249,451h1v1h-1zM251,450h1v1h-1zM254,457h1v1h-1zM245,443h1v1h-1zM239,450h1v1h-1zM255,447h1v1h-1zM240,456h1v1h-1zM241,451h1v1h-1zM263,453h1v1h-1zM241,441h1v1h-1zM243,447h1v1h-1zM242,441h1v1h-1zM260,456h1v1h-1zM245,442h1v1h-1zM256,447h1v1h-1zM244,452h1v1h-1zM243,442h1v1h-1zM257,443h1v1h-1zM257,446h1v1h-1zM243,457h1v1h-1zM244,449h1v1h-1zM252,455h1v1h-1zM260,452h1v1h-1zM247,443h1v1h-1zM249,456h1v1h-1zM244,448h1v1h-1zM245,451h1v1h-1zM248,451h1v1h-1zM244,453h1v1h-1zM253,452h1v1h-1zM241,453h1v1h-1zM258,445h1v1h-1zM258,444h1v1h-1zM242,445h1v1h-1zM239,446h1v1h-1zM242,441h1v1h-1zM260,456h1v1h-1zM249,452h1v1h-1zM249,455h1v1h-1zM261,449h1v1h-1zM246,456h1v1h-1zM251,449h1v1h-1zM258,446h1v1h-1zM248,448h1v1h-1zM241,448h1v1h-1zM243,448h1v1h-1zM242,445h1v1h-1zM262,455h1v1h-1zM243,441h1v1h-1zM247,442h1v1h-1zM242,448h1v1h-1zM251,456h1v1h-1zM257,445h1v1h-1zM241,441h1v1h-1zM256,454h1v1h-1zM247,444h1v1h-1zM240,442h1v1h-1zM261,446h1v1h-1zM257,453h1v1h-1zM246,442h1v1h-1zM251,443h1v1h-1zM248,449h1v1h-1zM246,448h1v1h-1zM259,450h1v1h-1zM254,444h1v1h-1zM242,455h1v1h-1zM246,445h1v1h-1zM242,451h1v1h-1zM258,454h1v1h-1zM242,442h1v1h-1zM253,457h1v1h-1zM243,451h1v1h-1zM249,454h1v1h-1zM262,454h1v1h-1zM252,457h1v1h-1zM254,453h1v1h-1zM240,448h1v1h-1zM246,455h1v1h-1zM262,451h1v1h-1zM258,450h1v1h-1zM261,450h1v1h-1zM262,454h1v1h-1zM254,445h1v1h-1zM254,444h1v1h-1zM242,447h1v1h-1zM249,448h1v1h-1zM242,456h1v1h-1zM251,444h1v1h-1zM252,449h1v1h-1z" fill="#880000" shape-rendering="crispEdges"/>
<path d="M250,447h1v1h-1zM252,442h1v1h-1zM244,444h1v1h-1zM245,453h1v1h-1zM242,457h1v1h-1zM240,449h1v1h-1zM248,448h1v1h-1zM256,446h1v1h-1zM249,444h1v1h-1zM243,456h1v1h-1zM255,444h1v1h-1zM250,453h1v1h-1zM253,450h1v1h-1z" fill="#ffca00" shape-rendering="crispEdges"/>
<path d="M253,450h1v1h-1zM250,445h1v1h-1zM256,454h1v1h-1zM257,456h1v1h-1zM242,449h1v1h-1zM259,455h1v1h-1zM259,449h1v1h-1zM253,454h1v1h-1zM254,446h1v1h-1zM241,445h1v1h-1z" fill="#ff7000" shape-rendering="crispEdges"/>
<path d="M254,451h1v1h-1zM250,450h1v1h-1zM258,450h1v1h-1zM242,444h1v1h-1zM240,447h1v1h-1zM261,456h1v1h-1zM251,451h1v1h-1zM244,459h1v1h-1z" fill="#df0000" shape-rendering="crispEdges"/>
<path d="M310,450h1v1h-1zM309,450h1v1h-1zM340,452h1v1h-1zM280,449h1v1h-1zM280,451h1v1h-1zM331,452h1v1h-1zM288,450h1v1h-1zM322,451h1v1h-1zM306,449h1v1h-1zM263,450h1v1h-1zM321,450h1v1h-1zM311,451h1v1h-1zM288,451h1v1h-1zM306,452h1v1h-1zM294,451h1v1h-1zM278,448h1v1h-1zM337,450h1v1h-1zM318,450h1v1h-1zM272,451h1v1h-1zM275,450h1v1h-1zM279,452h1v1h-1zM307,452h1v1h-1zM312,451h1v1h-1zM283,449h1v1h-1zM280,450h1v1h-1zM267,450h1v1h-1z" fill="#880000" shape-rendering="crispEdges"/>
<path d="M274,448h1v1h-1zM276,448h1v1h-1zM318,452h1v1h-1zM280,449h1v1h-1z" fill="#df0000" shape-rendering="crispEdges"/>
<path d="M302,449h1v1h-1zM312,452h1v1h-1zM281,450h1v1h-1zM338,451h1v1h-1z" fill="#ffca00" shape-rendering="crispEdges"/>
<path d="M237,456h1v1h-1zM229,455h1v1h-1zM240,460h1v1h-1zM242,459h1v1h-1z" fill="#ff9c00" shape-rendering="crispEdges"/>
<path d="M237,460h1v1h-1zM245,458h1v1h-1zM232,456h1v1h-1zM239,458h1v1h-1zM244,457h1v1h-1zM241,458h1v1h-1zM233,459h1v1h-1zM236,459h1v1h-1zM230,457h1v1h-1zM235,456h1v1h-1z" fill="#880000" shape-rendering="crispEdges"/>
<path d="M236,457h1v1h-1zM245,457h1v1h-1zM228,456h1v1h-1zM245,457h1v1h-1zM233,457h1v1h-1zM239,457h1v1h-1z" fill="#ffca00" shape-rendering="crispEdges"/>
<path d="M228,460h1v1h-1zM227,459h1v1h-1zM238,460h1v1h-1zM137,508h1v1h-1zM138,537h1v1h-1zM141,504h1v1h-1zM230,462h1v1h-1zM147,493h1v1h-1zM181,473h1v1h-1zM246,460h1v1h-1zM139,513h1v1h-1zM139,507h1v1h-1zM135,520h1v1h-1zM140,511h1v1h-1zM136,516h1v1h-1zM228,463h1v1h-1zM247,463h1v1h-1zM141,533h1v1h-1zM156,488h1v1h-1zM210,460h1v1h-1zM137,510h1v1h-1zM235,462h1v1h-1zM142,534h1v1h-1zM143,537h1v1h-1zM147,492h1v1h-1zM148,489h1v1h-1zM147,493h1v1h-1zM191,467h1v1h-1zM233,463h1v1h-1zM150,492h1v1h-1zM177,478h1v1h-1zM233,461h1v1h-1zM223,461h1v1h-1zM221,462h1v1h-1zM141,525h1v1h-1zM228,462h1v1h-1zM148,491h1v1h-1zM195,467h1v1h-1zM136,545h1v1h-1zM143,534h1v1h-1zM199,464h1v1h-1zM143,534h1v1h-1zM138,518h1v1h-1zM136,510h1v1h-1zM228,461h1v1h-1zM134,523h1v1h-1zM162,484h1v1h-1zM141,536h1v1h-1zM230,458h1v1h-1zM191,466h1v1h-1zM159,485h1v1h-1zM224,458h1v1h-1zM135,514h1v1h-1zM236,459h1v1h-1zM139,518h1v1h-1zM139,512h1v1h-1zM139,520h1v1h-1zM190,466h1v1h-1zM188,470h1v1h-1zM169,481h1v1h-1zM146,496h1v1h-1zM134,512h1v1h-1zM153,487h1v1h-1zM156,485h1v1h-1zM134,521h1v1h-1zM138,511h1v1h-1zM217,460h1v1h-1zM138,539h1v1h-1zM143,533h1v1h-1zM137,512h1v1h-1zM236,459h1v1h-1zM199,464h1v1h-1zM144,501h1v1h-1zM180,474h1v1h-1zM243,462h1v1h-1zM140,541h1v1h-1zM185,469h1v1h-1zM212,457h1v1h-1zM225,460h1v1h-1zM136,524h1v1h-1zM144,536h1v1h-1zM135,546h1v1h-1zM142,535h1v1h-1zM135,548h1v1h-1zM201,463h1v1h-1zM142,540h1v1h-1zM239,459h1v1h-1zM142,497h1v1h-1zM233,460h1v1h-1zM134,516h1v1h-1zM140,525h1v1h-1zM136,525h1v1h-1zM135,519h1v1h-1zM172,479h1v1h-1zM135,514h1v1h-1zM148,491h1v1h-1zM229,464h1v1h-1zM140,526h1v1h-1zM137,504h1v1h-1zM230,462h1v1h-1zM186,472h1v1h-1zM226,458h1v1h-1zM187,468h1v1h-1zM246,461h1v1h-1zM151,487h1v1h-1zM204,463h1v1h-1zM135,525h1v1h-1zM238,461h1v1h-1zM205,463h1v1h-1zM215,458h1v1h-1zM214,459h1v1h-1zM221,460h1v1h-1zM135,549h1v1h-1zM210,460h1v1h-1zM199,463h1v1h-1zM244,462h1v1h-1zM209,461h1v1h-1zM141,539h1v1h-1zM138,523h1v1h-1zM232,464h1v1h-1zM152,486h1v1h-1zM185,468h1v1h-1zM198,464h1v1h-1zM245,465h1v1h-1zM225,460h1v1h-1zM202,465h1v1h-1zM154,487h1v1h-1zM206,460h1v1h-1zM243,464h1v1h-1zM137,515h1v1h-1zM197,466h1v1h-1zM141,539h1v1h-1zM236,465h1v1h-1zM241,464h1v1h-1zM198,464h1v1h-1zM237,461h1v1h-1zM239,462h1v1h-1zM212,462h1v1h-1zM232,464h1v1h-1zM226,462h1v1h-1zM236,461h1v1h-1zM211,459h1v1h-1zM149,494h1v1h-1zM150,491h1v1h-1zM138,536h1v1h-1zM137,548h1v1h-1zM140,510h1v1h-1zM138,524h1v1h-1zM219,459h1v1h-1zM231,461h1v1h-1zM248,461h1v1h-1zM133,514h1v1h-1zM139,518h1v1h-1zM138,534h1v1h-1zM140,533h1v1h-1zM143,502h1v1h-1zM144,501h1v1h-1zM222,460h1v1h-1z" fill="#880000" shape-rendering="crispEdges"/>
<path d="M140,532h1v1h-1zM192,467h1v1h-1zM246,461h1v1h-1zM142,528h1v1h-1zM136,544h1v1h-1zM174,477h1v1h-1zM140,506h1v1h-1zM140,529h1v1h-1zM193,466h1v1h-1zM159,485h1v1h-1zM138,537h1v1h-1zM245,460h1v1h-1zM155,486h1v1h-1zM138,533h1v1h-1zM228,458h1v1h-1zM143,501h1v1h-1zM145,498h1v1h-1z" fill="#fff800" shape-rendering="crispEdges"/>
<path d="M219,461h1v1h-1zM144,500h1v1h-1zM139,523h1v1h-1zM189,469h1v1h-1zM159,485h1v1h-1zM144,500h1v1h-1zM188,466h1v1h-1zM201,462h1v1h-1zM144,496h1v1h-1zM142,541h1v1h-1zM210,459h1v1h-1zM134,549h1v1h-1zM140,505h1v1h-1zM137,530h1v1h-1zM139,547h1v1h-1zM137,526h1v1h-1zM151,489h1v1h-1zM191,467h1v1h-1zM209,461h1v1h-1zM142,529h1v1h-1zM139,527h1v1h-1zM139,504h1v1h-1zM235,463h1v1h-1zM237,462h1v1h-1zM140,503h1v1h-1z" fill="#ff9c00" shape-rendering="crispEdges"/>
<path d="M141,532h1v1h-1zM137,532h1v1h-1zM139,502h1v1h-1zM199,463h1v1h-1zM191,465h1v1h-1zM235,460h1v1h-1zM146,491h1v1h-1zM199,463h1v1h-1zM136,508h1v1h-1zM244,460h1v1h-1zM144,492h1v1h-1zM146,496h1v1h-1zM211,458h1v1h-1zM142,529h1v1h-1zM141,509h1v1h-1zM142,534h1v1h-1zM137,504h1v1h-1zM163,483h1v1h-1zM221,458h1v1h-1z" fill="#ffffff" shape-rendering="crispEdges"/>
<path d="M160,480h1v1h-1zM159,477h1v1h-1zM152,487h1v1h-1zM150,485h1v1h-1zM155,477h1v1h-1zM161,484h1v1h-1zM154,481h1v1h-1zM158,483h1v1h-1zM149,484h1v1h-1zM160,481h1v1h-1zM156,484h1v1h-1zM156,480h1v1h-1zM165,480h1v1h-1zM161,478h1v1h-1zM162,481h1v1h-1zM156,481h1v1h-1zM152,478h1v1h-1zM159,478h1v1h-1zM156,480h1v1h-1zM164,481h1v1h-1zM162,482h1v1h-1zM163,478h1v1h-1zM162,478h1v1h-1zM149,485h1v1h-1zM162,477h1v1h-1zM156,484h1v1h-1zM153,486h1v1h-1zM164,479h1v1h-1zM151,486h1v1h-1zM166,478h1v1h-1zM156,479h1v1h-1zM156,477h1v1h-1zM149,485h1v1h-1zM150,480h1v1h-1zM152,481h1v1h-1zM154,485h1v1h-1zM156,485h1v1h-1zM162,479h1v1h-1zM154,484h1v1h-1zM156,485h1v1h-1zM156,485h1v1h-1zM151,482h1v1h-1zM163,478h1v1h-1z" fill="#880000" shape-rendering="crispEdges"/>
<path d="M154,487h1v1h-1z" fill="#ffca00" shape-rendering="crispEdges"/>
<path d="M156,484h1v1h-1zM165,481h1v1h-1z" fill="#df0000" shape-rendering="crispEdges"/>
<path d="M136,511h1v1h-1zM133,506h1v1h-1zM132,529h1v1h-1zM135,537h1v1h-1zM133,525h1v1h-1zM137,517h1v1h-1zM136,519h1v1h-1zM132,518h1v1h-1zM134,519h1v1h-1zM137,521h1v1h-1zM136,510h1v1h-1zM133,508h1v1h-1zM135,540h1v1h-1zM137,509h1v1h-1zM132,520h1v1h-1zM136,530h1v1h-1zM133,505h1v1h-1zM131,539h1v1h-1zM132,523h1v1h-1zM136,511h1v1h-1zM134,531h1v1h-1zM134,527h1v1h-1zM132,534h1v1h-1zM138,521h1v1h-1zM134,524h1v1h-1zM133,531h1v1h-1zM137,524h1v1h-1zM134,539h1v1h-1zM132,534h1v1h-1zM136,528h1v1h-1zM135,514h1v1h-1zM132,539h1v1h-1zM133,526h1v1h-1zM134,534h1v1h-1zM134,517h1v1h-1zM133,517h1v1h-1zM134,539h1v1h-1zM134,525h1v1h-1zM133,532h1v1h-1zM134,513h1v1h-1zM132,525h1v1h-1zM137,512h1v1h-1zM134,528h1v1h-1zM135,513h1v1h-1zM135,507h1v1h-1zM133,533h1v1h-1zM133,519h1v1h-1zM134,516h1v1h-1zM134,518h1v1h-1zM135,535h1v1h-1zM133,539h1v1h-1zM135,513h1v1h-1zM134,538h1v1h-1zM135,516h1v1h-1zM134,529h1v1h-1zM133,535h1v1h-1zM135,509h1v1h-1zM136,504h1v1h-1zM135,540h1v1h-1z" fill="#880000" shape-rendering="crispEdges"/>
<path d="M132,511h1v1h-1zM137,506h1v1h-1zM133,538h1v1h-1zM134,522h1v1h-1zM133,519h1v1h-1z" fill="#df0000" shape-rendering="crispEdges"/>
<path d="M136,506h1v1h-1zM137,508h1v1h-1z" fill="#ffca00" shape-rendering="crispEdges"/>
<path d="M136,517h1v1h-1zM132,528h1v1h-1z" fill="#ff7000" shape-rendering="crispEdges"/>
<path d="M218,454h1v1h-1zM242,458h1v1h-1zM205,457h1v1h-1zM212,453h1v1h-1zM217,458h1v1h-1zM219,458h1v1h-1zM214,457h1v1h-1zM235,457h1v1h-1zM232,457h1v1h-1zM219,459h1v1h-1z" fill="#fff800" shape-rendering="crispEdges"/>
<path d="M217,453h1v1h-1zM203,454h1v1h-1zM219,459h1v1h-1zM204,455h1v1h-1zM212,458h1v1h-1zM215,453h1v1h-1zM241,458h1v1h-1zM227,455h1v1h-1zM223,457h1v1h-1zM205,455h1v1h-1zM217,455h1v1h-1zM237,457h1v1h-1zM228,456h1v1h-1zM212,452h1v1h-1zM236,457h1v1h-1zM243,457h1v1h-1zM209,455h1v1h-1zM204,452h1v1h-1zM246,460h1v1h-1zM227,455h1v1h-1zM237,457h1v1h-1zM231,457h1v1h-1zM206,454h1v1h-1z" fill="#880000" shape-rendering="crispEdges"/>
<path d="M214,453h1v1h-1zM221,456h1v1h-1zM224,458h1v1h-1zM233,456h1v1h-1zM206,458h1v1h-1zM210,458h1v1h-1zM241,457h1v1h-1zM205,455h1v1h-1zM242,458h1v1h-1zM222,455h1v1h-1zM236,459h1v1h-1z" fill="#ff9c00" shape-rendering="crispEdges"/>
<path d="M260,455h1v1h-1zM263,455h1v1h-1zM271,460h1v1h-1zM285,460h1v1h-1zM242,458h1v1h-1zM252,468h1v1h-1zM265,474h1v1h-1zM241,461h1v1h-1zM276,464h1v1h-1zM277,455h1v1h-1zM244,456h1v1h-1zM258,459h1v1h-1zM289,461h1v1h-1zM274,467h1v1h-1zM285,465h1v1h-1zM273,456h1v1h-1zM275,470h1v1h-1zM273,470h1v1h-1zM270,464h1v1h-1zM225,460h1v1h-1zM288,463h1v1h-1zM285,451h1v1h-1zM255,464h1v1h-1zM226,459h1v1h-1zM276,471h1v1h-1zM273,464h1v1h-1zM227,456h1v1h-1zM279,470h1v1h-1zM292,457h1v1h-1zM293,452h1v1h-1zM238,462h1v1h-1zM240,462h1v1h-1zM211,465h1v1h-1zM301,459h1v1h-1zM229,461h1v1h-1zM289,472h1v1h-1zM235,459h1v1h-1zM297,471h1v1h-1zM261,466h1v1h-1zM256,453h1v1h-1zM298,454h1v1h-1zM220,456h1v1h-1zM287,467h1v1h-1zM256,470h1v1h-1zM277,458h1v1h-1zM299,458h1v1h-1zM268,453h1v1h-1zM285,451h1v1h-1zM251,454h1v1h-1zM267,468h1v1h-1zM242,456h1v1h-1zM272,468h1v1h-1zM278,452h1v1h-1zM237,465h1v1h-1zM243,464h1v1h-1zM259,457h1v1h-1zM262,473h1v1h-1zM290,469h1v1h-1zM291,452h1v1h-1zM272,460h1v1h-1zM292,458h1v1h-1zM224,463h1v1h-1zM271,461h1v1h-1zM294,464h1v1h-1zM296,464h1v1h-1zM203,460h1v1h-1zM212,459h1v1h-1zM215,461h1v1h-1zM298,472h1v1h-1zM278,452h1v1h-1zM285,453h1v1h-1zM278,458h1v1h-1zM243,463h1v1h-1zM237,460h1v1h-1zM254,468h1v1h-1zM222,462h1v1h-1zM295,463h1v1h-1zM222,457h1v1h-1zM236,461h1v1h-1zM234,464h1v1h-1zM225,458h1v1h-1zM266,473h1v1h-1zM292,467h1v1h-1zM277,455h1v1h-1zM295,468h1v1h-1zM251,463h1v1h-1zM248,462h1v1h-1zM256,455h1v1h-1zM223,461h1v1h-1zM284,451h1v1h-1zM271,474h1v1h-1zM252,457h1v1h-1zM291,468h1v1h-1zM219,462h1v1h-1zM272,461h1v1h-1zM299,457h1v1h-1zM296,455h1v1h-1zM257,456h1v1h-1zM283,452h1v1h-1zM289,472h1v1h-1zM265,458h1v1h-1zM284,454h1v1h-1zM282,455h1v1h-1zM276,468h1v1h-1zM294,461h1v1h-1zM269,475h1v1h-1zM291,475h1v1h-1zM254,462h1v1h-1zM265,459h1v1h-1z" fill="#d3d3d3" shape-rendering="crispEdges"/>
<path d="M236,456h1v1h-1zM238,459h1v1h-1zM291,460h1v1h-1zM276,456h1v1h-1zM275,452h1v1h-1zM284,464h1v1h-1zM260,465h1v1h-1zM204,461h1v1h-1zM277,466h1v1h-1zM276,452h1v1h-1zM258,453h1v1h-1zM239,460h1v1h-1zM270,458h1v1h-1zM293,460h1v1h-1zM265,463h1v1h-1zM205,462h1v1h-1zM225,465h1v1h-1zM249,458h1v1h-1zM243,462h1v1h-1zM268,453h1v1h-1zM220,458h1v1h-1zM267,471h1v1h-1zM274,460h1v1h-1zM215,458h1v1h-1zM221,456h1v1h-1zM273,470h1v1h-1zM215,457h1v1h-1zM282,460h1v1h-1zM253,458h1v1h-1zM296,461h1v1h-1zM207,460h1v1h-1zM226,460h1v1h-1zM223,462h1v1h-1zM287,458h1v1h-1zM271,466h1v1h-1zM289,461h1v1h-1zM214,464h1v1h-1zM227,461h1v1h-1zM260,460h1v1h-1zM204,465h1v1h-1zM244,463h1v1h-1zM264,463h1v1h-1zM208,458h1v1h-1zM278,456h1v1h-1zM201,464h1v1h-1zM220,457h1v1h-1zM278,468h1v1h-1zM281,467h1v1h-1zM282,466h1v1h-1zM254,463h1v1h-1zM239,461h1v1h-1zM292,468h1v1h-1zM240,464h1v1h-1zM253,469h1v1h-1zM266,475h1v1h-1zM204,462h1v1h-1zM264,460h1v1h-1zM247,462h1v1h-1zM280,462h1v1h-1zM210,461h1v1h-1zM289,459h1v1h-1zM242,461h1v1h-1zM210,461h1v1h-1zM268,466h1v1h-1zM227,463h1v1h-1zM300,460h1v1h-1zM253,465h1v1h-1zM243,461h1v1h-1zM227,460h1v1h-1zM289,456h1v1h-1zM254,455h1v1h-1zM270,466h1v1h-1zM274,452h1v1h-1zM257,457h1v1h-1zM201,460h1v1h-1zM295,454h1v1h-1zM296,474h1v1h-1zM258,463h1v1h-1zM217,462h1v1h-1zM290,453h1v1h-1zM210,464h1v1h-1zM203,462h1v1h-1zM219,462h1v1h-1zM276,463h1v1h-1zM266,470h1v1h-1zM240,458h1v1h-1zM230,462h1v1h-1zM258,456h1v1h-1zM238,465h1v1h-1zM264,470h1v1h-1zM287,467h1v1h-1zM275,452h1v1h-1zM285,467h1v1h-1zM268,473h1v1h-1zM262,461h1v1h-1zM266,467h1v1h-1zM215,460h1v1h-1zM232,457h1v1h-1zM269,456h1v1h-1zM215,459h1v1h-1zM210,463h1v1h-1zM233,460h1v1h-1zM274,452h1v1h-1zM257,469h1v1h-1zM260,464h1v1h-1zM236,465h1v1h-1zM210,457h1v1h-1zM216,460h1v1h-1zM250,462h1v1h-1zM296,470h1v1h-1zM267,470h1v1h-1zM260,462h1v1h-1zM270,460h1v1h-1zM295,473h1v1h-1zM290,458h1v1h-1zM265,461h1v1h-1zM272,457h1v1h-1zM238,465h1v1h-1zM289,456h1v1h-1zM265,464h1v1h-1zM271,472h1v1h-1zM261,458h1v1h-1zM270,467h1v1h-1zM279,452h1v1h-1zM262,457h1v1h-1zM214,461h1v1h-1zM266,460h1v1h-1zM286,465h1v1h-1zM291,458h1v1h-1zM209,462h1v1h-1zM240,463h1v1h-1zM274,472h1v1h-1zM289,458h1v1h-1zM275,461h1v1h-1zM298,454h1v1h-1zM294,453h1v1h-1zM208,457h1v1h-1zM299,452h1v1h-1zM266,472h1v1h-1zM293,461h1v1h-1zM291,453h1v1h-1zM264,468h1v1h-1zM252,456h1v1h-1zM301,454h1v1h-1zM287,454h1v1h-1zM268,469h1v1h-1zM284,453h1v1h-1zM288,456h1v1h-1zM221,456h1v1h-1zM275,462h1v1h-1zM223,458h1v1h-1zM239,461h1v1h-1zM300,455h1v1h-1zM237,457h1v1h-1zM259,471h1v1h-1zM263,463h1v1h-1zM281,463h1v1h-1zM260,460h1v1h-1zM251,460h1v1h-1zM254,458h1v1h-1zM224,457h1v1h-1zM246,464h1v1h-1zM275,455h1v1h-1zM268,453h1v1h-1zM252,458h1v1h-1zM277,463h1v1h-1zM245,457h1v1h-1zM219,458h1v1h-1zM292,475h1v1h-1zM250,455h1v1h-1zM276,463h1v1h-1zM257,453h1v1h-1zM290,474h1v1h-1zM208,459h1v1h-1zM296,460h1v1h-1zM229,459h1v1h-1zM212,462h1v1h-1zM232,460h1v1h-1zM283,453h1v1h-1zM268,454h1v1h-1zM234,460h1v1h-1zM282,456h1v1h-1zM270,467h1v1h-1zM278,467h1v1h-1zM292,466h1v1h-1zM268,472h1v1h-1zM241,458h1v1h-1zM288,451h1v1h-1zM264,454h1v1h-1zM276,462h1v1h-1zM285,461h1v1h-1zM241,460h1v1h-1zM282,460h1v1h-1zM286,462h1v1h-1zM268,473h1v1h-1zM291,471h1v1h-1zM272,472h1v1h-1zM264,475h1v1h-1zM272,460h1v1h-1zM228,457h1v1h-1zM295,467h1v1h-1zM290,459h1v1h-1zM263,458h1v1h-1zM268,454h1v1h-1zM278,460h1v1h-1zM254,456h1v1h-1zM288,471h1v1h-1zM244,456h1v1h-1zM252,460h1v1h-1zM287,458h1v1h-1zM259,458h1v1h-1z" fill="#ffffff" shape-rendering="crispEdges"/>
<path d="M291,468h1v1h-1zM264,468h1v1h-1zM205,461h1v1h-1zM270,470h1v1h-1zM290,464h1v1h-1zM239,460h1v1h-1zM278,471h1v1h-1zM207,463h1v1h-1zM236,464h1v1h-1zM296,460h1v1h-1zM258,456h1v1h-1zM297,472h1v1h-1zM288,473h1v1h-1zM215,461h1v1h-1zM262,466h1v1h-1zM260,464h1v1h-1zM262,473h1v1h-1zM266,472h1v1h-1zM248,466h1v1h-1zM289,458h1v1h-1zM286,457h1v1h-1zM258,458h1v1h-1zM278,455h1v1h-1zM285,460h1v1h-1zM287,451h1v1h-1zM267,471h1v1h-1zM226,457h1v1h-1zM208,464h1v1h-1zM298,462h1v1h-1zM230,459h1v1h-1zM232,459h1v1h-1zM286,463h1v1h-1zM263,452h1v1h-1zM277,465h1v1h-1zM293,473h1v1h-1zM294,463h1v1h-1zM233,465h1v1h-1z" fill="#fff800" shape-rendering="crispEdges"/>
<path d="M289,469h1v1h-1zM226,457h1v1h-1zM265,463h1v1h-1zM260,469h1v1h-1zM279,459h1v1h-1zM290,457h1v1h-1zM254,457h1v1h-1zM234,462h1v1h-1zM267,461h1v1h-1zM296,476h1v1h-1zM230,462h1v1h-1zM260,469h1v1h-1zM254,455h1v1h-1zM235,464h1v1h-1zM280,460h1v1h-1zM276,461h1v1h-1zM285,463h1v1h-1zM210,463h1v1h-1zM276,470h1v1h-1zM234,459h1v1h-1zM222,457h1v1h-1zM270,461h1v1h-1zM272,461h1v1h-1zM227,457h1v1h-1zM255,462h1v1h-1zM239,466h1v1h-1zM269,469h1v1h-1zM200,464h1v1h-1zM237,459h1v1h-1zM272,458h1v1h-1z" fill="#ff9c00" shape-rendering="crispEdges"/>
<path d="M523,341h1v1h-1zM533,346h1v1h-1zM531,347h1v1h-1zM524,344h1v1h-1zM533,348h1v1h-1zM532,340h1v1h-1zM538,346h1v1h-1zM537,346h1v1h-1zM530,350h1v1h-1zM529,346h1v1h-1zM528,343h1v1h-1zM525,350h1v1h-1zM534,346h1v1h-1zM528,339h1v1h-1zM524,345h1v1h-1zM542,343h1v1h-1z" fill="#fff800" shape-rendering="crispEdges"/>
<path d="M524,344h1v1h-1zM523,342h1v1h-1zM523,343h1v1h-1zM528,341h1v1h-1zM538,345h1v1h-1zM528,341h1v1h-1zM526,345h1v1h-1zM540,345h1v1h-1zM532,352h1v1h-1zM536,345h1v1h-1zM527,352h1v1h-1zM529,344h1v1h-1zM530,349h1v1h-1zM533,349h1v1h-1zM524,345h1v1h-1zM526,351h1v1h-1zM523,342h1v1h-1zM525,343h1v1h-1zM530,354h1v1h-1zM530,349h1v1h-1zM525,346h1v1h-1zM528,353h1v1h-1zM527,340h1v1h-1zM535,347h1v1h-1zM526,341h1v1h-1zM527,340h1v1h-1zM529,345h1v1h-1zM524,341h1v1h-1z" fill="#880000" shape-rendering="crispEdges"/>
<path d="M528,352h1v1h-1zM529,351h1v1h-1zM526,340h1v1h-1zM537,345h1v1h-1zM529,352h1v1h-1zM525,341h1v1h-1zM536,341h1v1h-1zM538,344h1v1h-1zM532,349h1v1h-1zM530,345h1v1h-1z" fill="#ff9c00" shape-rendering="crispEdges"/>
<path d="M543,346h1v1h-1zM542,358h1v1h-1zM540,358h1v1h-1zM543,347h1v1h-1zM538,359h1v1h-1zM547,361h1v1h-1zM539,361h1v1h-1zM548,359h1v1h-1zM540,361h1v1h-1z" fill="#fff800" shape-rendering="crispEdges"/>
<path d="M530,364h1v1h-1zM535,361h1v1h-1zM548,352h1v1h-1zM543,353h1v1h-1zM540,352h1v1h-1zM534,364h1v1h-1zM544,350h1v1h-1zM543,349h1v1h-1zM539,366h1v1h-1zM534,359h1v1h-1zM541,358h1v1h-1zM547,360h1v1h-1zM547,361h1v1h-1zM540,352h1v1h-1zM547,350h1v1h-1zM550,359h1v1h-1zM543,357h1v1h-1zM533,367h1v1h-1zM539,361h1v1h-1zM541,357h1v1h-1zM544,354h1v1h-1zM541,345h1v1h-1zM550,357h1v1h-1z" fill="#d3d3d3" shape-rendering="crispEdges"/>
<path d="M540,348h1v1h-1zM539,358h1v1h-1zM541,364h1v1h-1zM537,363h1v1h-1zM535,362h1v1h-1zM537,358h1v1h-1zM542,344h1v1h-1z" fill="#ffffff" shape-rendering="crispEdges"/>
<path d="M652,200h1v1h-1zM655,200h1v1h-1zM661,197h1v1h-1zM671,196h1v1h-1zM710,179h1v1h-1zM694,187h1v1h-1zM656,199h1v1h-1zM696,187h1v1h-1zM686,191h1v1h-1z" fill="#fff800" shape-rendering="crispEdges"/>
<path d="M689,189h1v1h-1zM711,181h1v1h-1zM688,190h1v1h-1zM662,199h1v1h-1zM711,181h1v1h-1zM691,190h1v1h-1zM687,191h1v1h-1z" fill="#880000" shape-rendering="crispEdges"/>
<path d="M710,179h1v1h-1zM672,196h1v1h-1zM711,180h1v1h-1zM660,199h1v1h-1zM667,195h1v1h-1zM689,191h1v1h-1zM675,193h1v1h-1zM703,183h1v1h-1zM689,191h1v1h-1zM685,192h1v1h-1zM674,194h1v1h-1zM658,199h1v1h-1zM650,204h1v1h-1zM688,190h1v1h-1zM691,190h1v1h-1zM667,197h1v1h-1zM710,182h1v1h-1zM705,182h1v1h-1zM682,193h1v1h-1z" fill="#ffffff" shape-rendering="crispEdges"/>
<path d="M707,183h1v1h-1zM651,203h1v1h-1zM658,198h1v1h-1zM687,190h1v1h-1zM687,190h1v1h-1zM698,187h1v1h-1zM670,195h1v1h-1zM681,192h1v1h-1zM709,181h1v1h-1zM699,187h1v1h-1zM669,196h1v1h-1zM679,193h1v1h-1zM652,203h1v1h-1zM709,179h1v1h-1zM655,201h1v1h-1zM706,182h1v1h-1zM659,199h1v1h-1z" fill="#a8ff58" shape-rendering="crispEdges"/></g>
<rect x="129.5" y="162.5" width="710.5" height="697.5" fill="none" stroke="#222" stroke-width="1.25"/>
<line x1="112" y1="177.4" x2="129" y2="177.4" stroke="#000" stroke-width="1.3"/><text x="97" y="185.6" text-anchor="end" class="tl">45°N</text><line x1="112" y1="271.0" x2="129" y2="271.0" stroke="#000" stroke-width="1.3"/><text x="97" y="279.2" text-anchor="end" class="tl">40°N</text><line x1="112" y1="364.6" x2="129" y2="364.6" stroke="#000" stroke-width="1.3"/><text x="97" y="372.8" text-anchor="end" class="tl">35°N</text><line x1="112" y1="458.2" x2="129" y2="458.2" stroke="#000" stroke-width="1.3"/><text x="97" y="466.4" text-anchor="end" class="tl">30°N</text><line x1="112" y1="551.8" x2="129" y2="551.8" stroke="#000" stroke-width="1.3"/><text x="97" y="560.0" text-anchor="end" class="tl">25°N</text><line x1="112" y1="645.4" x2="129" y2="645.4" stroke="#000" stroke-width="1.3"/><text x="97" y="653.6" text-anchor="end" class="tl">20°N</text><line x1="112" y1="739.0" x2="129" y2="739.0" stroke="#000" stroke-width="1.3"/><text x="97" y="747.2" text-anchor="end" class="tl">15°N</text><line x1="112" y1="832.6" x2="129" y2="832.6" stroke="#000" stroke-width="1.3"/><text x="97" y="840.8000000000001" text-anchor="end" class="tl">10°N</text><line x1="185.6" y1="860" x2="185.6" y2="877" stroke="#000" stroke-width="1.3"/><text x="185.6" y="910.3" text-anchor="middle" class="tl">95°W</text><line x1="279.2" y1="860" x2="279.2" y2="877" stroke="#000" stroke-width="1.3"/><text x="279.2" y="910.3" text-anchor="middle" class="tl">90°W</text><line x1="372.8" y1="860" x2="372.8" y2="877" stroke="#000" stroke-width="1.3"/><text x="372.8" y="910.3" text-anchor="middle" class="tl">85°W</text><line x1="466.4" y1="860" x2="466.4" y2="877" stroke="#000" stroke-width="1.3"/><text x="466.4" y="910.3" text-anchor="middle" class="tl">80°W</text><line x1="560.0" y1="860" x2="560.0" y2="877" stroke="#000" stroke-width="1.3"/><text x="560.0" y="910.3" text-anchor="middle" class="tl">75°W</text><line x1="653.6" y1="860" x2="653.6" y2="877" stroke="#000" stroke-width="1.3"/><text x="653.6" y="910.3" text-anchor="middle" class="tl">70°W</text><line x1="747.2" y1="860" x2="747.2" y2="877" stroke="#000" stroke-width="1.3"/><text x="747.2" y="910.3" text-anchor="middle" class="tl">65°W</text>
<text x="164" y="133.9" class="ti" style="font-size:25.6px" textLength="137.5" lengthAdjust="spacingAndGlyphs">2021081221</text>
<text x="656.8" y="128.6" class="ti" style="font-size:25.2px">Elevation (m)</text>
<text x="484.5" y="944.8" text-anchor="middle" class="tl">Longitude</text>
<text transform="translate(40.9,511.2) rotate(-90)" text-anchor="middle" class="tl">Latitude</text>
<g id="cbar">
<rect x="879" y="169.00" width="42" height="31.39" fill="#880000"/><rect x="879" y="200.09" width="42" height="31.39" fill="#b30000"/><rect x="879" y="231.18" width="42" height="31.39" fill="#df0000"/><rect x="879" y="262.27" width="42" height="31.39" fill="#ff1000"/><rect x="879" y="293.36" width="42" height="31.39" fill="#ff4000"/><rect x="879" y="324.45" width="42" height="31.39" fill="#ff7000"/><rect x="879" y="355.55" width="42" height="31.39" fill="#ff9c00"/><rect x="879" y="386.64" width="42" height="31.39" fill="#ffca00"/><rect x="879" y="417.73" width="42" height="31.39" fill="#fff800"/><rect x="879" y="448.82" width="42" height="31.39" fill="#d7ff28"/><rect x="879" y="479.91" width="42" height="31.39" fill="#a8ff58"/><rect x="879" y="511.00" width="42" height="31.39" fill="#80ff80"/><rect x="879" y="542.09" width="42" height="31.39" fill="#50ffaf"/><rect x="879" y="573.18" width="42" height="31.39" fill="#20ffdf"/><rect x="879" y="604.27" width="42" height="31.39" fill="#00efff"/><rect x="879" y="635.36" width="42" height="31.39" fill="#00bfff"/><rect x="879" y="666.45" width="42" height="31.39" fill="#008fff"/><rect x="879" y="697.55" width="42" height="31.39" fill="#0060ff"/><rect x="879" y="728.64" width="42" height="31.39" fill="#0030ff"/><rect x="879" y="759.73" width="42" height="31.39" fill="#0000ff"/><rect x="879" y="790.82" width="42" height="31.39" fill="#0000cf"/><rect x="879" y="821.91" width="42" height="31.39" fill="#00009f"/>
<line x1="879" y1="200.09" x2="921" y2="200.09" stroke="#000" stroke-width="0.8"/><line x1="879" y1="231.18" x2="921" y2="231.18" stroke="#000" stroke-width="0.8"/><line x1="879" y1="262.27" x2="921" y2="262.27" stroke="#000" stroke-width="0.8"/><line x1="879" y1="293.36" x2="921" y2="293.36" stroke="#000" stroke-width="0.8"/><line x1="879" y1="324.45" x2="921" y2="324.45" stroke="#000" stroke-width="0.8"/><line x1="879" y1="355.55" x2="921" y2="355.55" stroke="#000" stroke-width="0.8"/><line x1="879" y1="386.64" x2="921" y2="386.64" stroke="#000" stroke-width="0.8"/><line x1="879" y1="417.73" x2="921" y2="417.73" stroke="#000" stroke-width="0.8"/><line x1="879" y1="448.82" x2="921" y2="448.82" stroke="#000" stroke-width="0.8"/><line x1="879" y1="479.91" x2="921" y2="479.91" stroke="#000" stroke-width="0.8"/><line x1="879" y1="511.00" x2="921" y2="511.00" stroke="#000" stroke-width="0.8"/><line x1="879" y1="542.09" x2="921" y2="542.09" stroke="#000" stroke-width="0.8"/><line x1="879" y1="573.18" x2="921" y2="573.18" stroke="#000" stroke-width="0.8"/><line x1="879" y1="604.27" x2="921" y2="604.27" stroke="#000" stroke-width="0.8"/><line x1="879" y1="635.36" x2="921" y2="635.36" stroke="#000" stroke-width="0.8"/><line x1="879" y1="666.45" x2="921" y2="666.45" stroke="#000" stroke-width="0.8"/><line x1="879" y1="697.55" x2="921" y2="697.55" stroke="#000" stroke-width="0.8"/><line x1="879" y1="728.64" x2="921" y2="728.64" stroke="#000" stroke-width="0.8"/><line x1="879" y1="759.73" x2="921" y2="759.73" stroke="#000" stroke-width="0.8"/><line x1="879" y1="790.82" x2="921" y2="790.82" stroke="#000" stroke-width="0.8"/><line x1="879" y1="821.91" x2="921" y2="821.91" stroke="#000" stroke-width="0.8"/>
<rect x="879" y="169" width="42" height="684" fill="none" stroke="#000" stroke-width="1"/>
</g>
<text x="960" y="211.09" text-anchor="middle" class="cb">2</text><text x="960" y="273.27" text-anchor="middle" class="cb">1.6</text><text x="960" y="335.45" text-anchor="middle" class="cb">1.2</text><text x="960" y="397.64" text-anchor="middle" class="cb">0.8</text><text x="960" y="459.82" text-anchor="middle" class="cb">0.4</text><text x="960" y="522.00" text-anchor="middle" class="cb">0</text><text x="960" y="584.18" text-anchor="middle" class="cb">-0.4</text><text x="960" y="646.36" text-anchor="middle" class="cb">-0.8</text><text x="960" y="708.55" text-anchor="middle" class="cb">-1.2</text><text x="960" y="770.73" text-anchor="middle" class="cb">-1.6</text><text x="960" y="832.91" text-anchor="middle" class="cb">-2</text>
</svg>
</body></html>
